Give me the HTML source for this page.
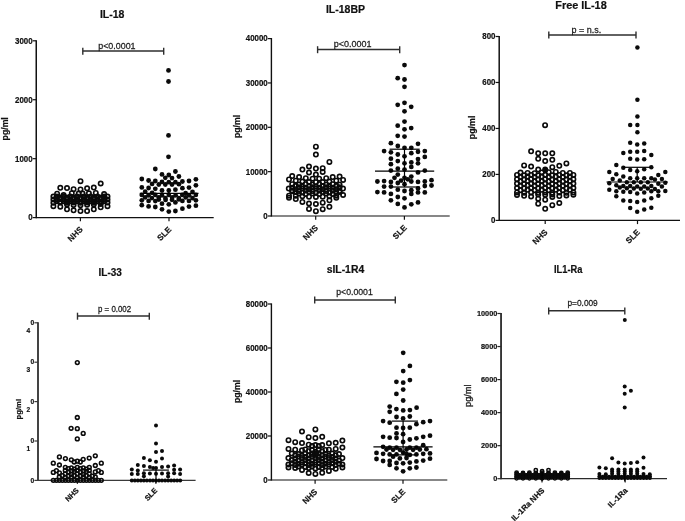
<!DOCTYPE html>
<html><head><meta charset="utf-8"><title>Figure</title>
<style>
html,body{margin:0;padding:0;background:#fff;}
svg{display:block;font-family:"Liberation Sans", Arial, sans-serif;}
</style></head><body>
<svg width="685" height="521" viewBox="0 0 685 521">
<rect width="685" height="521" fill="#fff"/>
<g>
<line x1="36.25" y1="40.20" x2="36.25" y2="218.20" stroke="#111" stroke-width="1.5"/>
<line x1="36.25" y1="217.60" x2="213.70" y2="217.60" stroke="#111" stroke-width="1.2"/>
<line x1="32.65" y1="217.60" x2="36.25" y2="217.60" stroke="#111" stroke-width="1.2"/>
<text x="0.00" y="0.00" font-size="8.5" font-weight="bold" stroke="#111" stroke-width="0.2" text-anchor="end" fill="#111" transform="translate(32.55 220.45) scale(0.93 1)">0</text>
<line x1="32.65" y1="158.67" x2="36.25" y2="158.67" stroke="#111" stroke-width="1.2"/>
<text x="0.00" y="0.00" font-size="8.5" font-weight="bold" stroke="#111" stroke-width="0.2" text-anchor="end" fill="#111" transform="translate(32.55 161.51) scale(0.93 1)">1000</text>
<line x1="32.65" y1="99.73" x2="36.25" y2="99.73" stroke="#111" stroke-width="1.2"/>
<text x="0.00" y="0.00" font-size="8.5" font-weight="bold" stroke="#111" stroke-width="0.2" text-anchor="end" fill="#111" transform="translate(32.55 102.58) scale(0.93 1)">2000</text>
<line x1="32.65" y1="40.80" x2="36.25" y2="40.80" stroke="#111" stroke-width="1.2"/>
<text x="0.00" y="0.00" font-size="8.5" font-weight="bold" stroke="#111" stroke-width="0.2" text-anchor="end" fill="#111" transform="translate(32.55 43.65) scale(0.93 1)">3000</text>
<line x1="80.40" y1="217.60" x2="80.40" y2="221.30" stroke="#111" stroke-width="1.2"/>
<text x="83.30" y="230.00" font-size="8.2" font-weight="bold" stroke="#111" stroke-width="0.2" text-anchor="end" fill="#111" transform="rotate(-45 83.30 230.00)">NHS</text>
<line x1="169.00" y1="217.60" x2="169.00" y2="221.30" stroke="#111" stroke-width="1.2"/>
<text x="171.90" y="230.00" font-size="8.2" font-weight="bold" stroke="#111" stroke-width="0.2" text-anchor="end" fill="#111" transform="rotate(-45 171.90 230.00)">SLE</text>
<text x="8.00" y="128.80" font-size="8.7" font-weight="bold" stroke="#111" stroke-width="0.2" text-anchor="middle" fill="#111" transform="rotate(-90 8.00 128.80)">pg/ml</text>
<text x="112.20" y="18.00" font-size="10.5" font-weight="bold" stroke="#111" stroke-width="0.2" text-anchor="middle" fill="#111">IL-18</text>
<line x1="82.80" y1="51.10" x2="163.70" y2="51.10" stroke="#2e2e2e" stroke-width="1.5"/>
<line x1="82.80" y1="47.70" x2="82.80" y2="54.70" stroke="#2e2e2e" stroke-width="1.4"/>
<line x1="163.70" y1="47.70" x2="163.70" y2="54.70" stroke="#2e2e2e" stroke-width="1.4"/>
<text x="0.00" y="0.00" font-size="9.43" stroke="#1c1c1c" stroke-width="0.25" text-anchor="start" fill="#1c1c1c" transform="translate(98.20 49.00) scale(0.945 1)">p&lt;0.0001</text>
<circle cx="80.5" cy="181.2" r="2.17" fill="none" stroke="#0a0a0a" stroke-width="1.65"/>
<circle cx="100.7" cy="183.5" r="2.17" fill="none" stroke="#0a0a0a" stroke-width="1.65"/>
<circle cx="60.3" cy="187.8" r="2.17" fill="none" stroke="#0a0a0a" stroke-width="1.65"/>
<circle cx="67.0" cy="188.1" r="2.17" fill="none" stroke="#0a0a0a" stroke-width="1.65"/>
<circle cx="73.6" cy="189.2" r="2.17" fill="none" stroke="#0a0a0a" stroke-width="1.65"/>
<circle cx="80.5" cy="189.4" r="2.17" fill="none" stroke="#0a0a0a" stroke-width="1.65"/>
<circle cx="87.1" cy="188.3" r="2.17" fill="none" stroke="#0a0a0a" stroke-width="1.65"/>
<circle cx="93.8" cy="187.6" r="2.17" fill="none" stroke="#0a0a0a" stroke-width="1.65"/>
<circle cx="57.1" cy="193.7" r="2.17" fill="none" stroke="#0a0a0a" stroke-width="1.65"/>
<circle cx="63.6" cy="195.0" r="2.17" fill="none" stroke="#0a0a0a" stroke-width="1.65"/>
<circle cx="71.8" cy="193.2" r="2.17" fill="none" stroke="#0a0a0a" stroke-width="1.65"/>
<circle cx="78.7" cy="193.5" r="2.17" fill="none" stroke="#0a0a0a" stroke-width="1.65"/>
<circle cx="82.6" cy="193.5" r="2.17" fill="none" stroke="#0a0a0a" stroke-width="1.65"/>
<circle cx="88.9" cy="193.3" r="2.17" fill="none" stroke="#0a0a0a" stroke-width="1.65"/>
<circle cx="95.8" cy="192.9" r="2.17" fill="none" stroke="#0a0a0a" stroke-width="1.65"/>
<circle cx="104.1" cy="194.0" r="2.17" fill="none" stroke="#0a0a0a" stroke-width="1.65"/>
<circle cx="53.4" cy="196.5" r="2.17" fill="none" stroke="#0a0a0a" stroke-width="1.65"/>
<circle cx="107.5" cy="196.5" r="2.17" fill="none" stroke="#0a0a0a" stroke-width="1.65"/>
<circle cx="56.8" cy="196.6" r="2.17" fill="none" stroke="#0a0a0a" stroke-width="1.65"/>
<circle cx="60.2" cy="197.4" r="2.17" fill="none" stroke="#0a0a0a" stroke-width="1.65"/>
<circle cx="63.6" cy="196.6" r="2.17" fill="none" stroke="#0a0a0a" stroke-width="1.65"/>
<circle cx="67.0" cy="197.4" r="2.17" fill="none" stroke="#0a0a0a" stroke-width="1.65"/>
<circle cx="70.4" cy="196.6" r="2.17" fill="none" stroke="#0a0a0a" stroke-width="1.65"/>
<circle cx="73.7" cy="197.4" r="2.17" fill="none" stroke="#0a0a0a" stroke-width="1.65"/>
<circle cx="77.1" cy="196.6" r="2.17" fill="none" stroke="#0a0a0a" stroke-width="1.65"/>
<circle cx="80.5" cy="197.4" r="2.17" fill="none" stroke="#0a0a0a" stroke-width="1.65"/>
<circle cx="83.9" cy="196.6" r="2.17" fill="none" stroke="#0a0a0a" stroke-width="1.65"/>
<circle cx="87.3" cy="197.4" r="2.17" fill="none" stroke="#0a0a0a" stroke-width="1.65"/>
<circle cx="90.6" cy="196.6" r="2.17" fill="none" stroke="#0a0a0a" stroke-width="1.65"/>
<circle cx="94.0" cy="197.4" r="2.17" fill="none" stroke="#0a0a0a" stroke-width="1.65"/>
<circle cx="97.4" cy="196.6" r="2.17" fill="none" stroke="#0a0a0a" stroke-width="1.65"/>
<circle cx="100.8" cy="197.4" r="2.17" fill="none" stroke="#0a0a0a" stroke-width="1.65"/>
<circle cx="104.2" cy="196.6" r="2.17" fill="none" stroke="#0a0a0a" stroke-width="1.65"/>
<circle cx="56.8" cy="198.1" r="2.17" fill="none" stroke="#0a0a0a" stroke-width="1.65"/>
<circle cx="60.2" cy="198.7" r="2.17" fill="none" stroke="#0a0a0a" stroke-width="1.65"/>
<circle cx="63.6" cy="198.1" r="2.17" fill="none" stroke="#0a0a0a" stroke-width="1.65"/>
<circle cx="67.0" cy="198.7" r="2.17" fill="none" stroke="#0a0a0a" stroke-width="1.65"/>
<circle cx="70.4" cy="198.1" r="2.17" fill="none" stroke="#0a0a0a" stroke-width="1.65"/>
<circle cx="73.7" cy="198.7" r="2.17" fill="none" stroke="#0a0a0a" stroke-width="1.65"/>
<circle cx="77.1" cy="198.1" r="2.17" fill="none" stroke="#0a0a0a" stroke-width="1.65"/>
<circle cx="80.5" cy="198.7" r="2.17" fill="none" stroke="#0a0a0a" stroke-width="1.65"/>
<circle cx="83.9" cy="198.1" r="2.17" fill="none" stroke="#0a0a0a" stroke-width="1.65"/>
<circle cx="87.3" cy="198.7" r="2.17" fill="none" stroke="#0a0a0a" stroke-width="1.65"/>
<circle cx="90.6" cy="198.1" r="2.17" fill="none" stroke="#0a0a0a" stroke-width="1.65"/>
<circle cx="94.0" cy="198.7" r="2.17" fill="none" stroke="#0a0a0a" stroke-width="1.65"/>
<circle cx="97.4" cy="198.1" r="2.17" fill="none" stroke="#0a0a0a" stroke-width="1.65"/>
<circle cx="100.8" cy="198.7" r="2.17" fill="none" stroke="#0a0a0a" stroke-width="1.65"/>
<circle cx="104.2" cy="198.1" r="2.17" fill="none" stroke="#0a0a0a" stroke-width="1.65"/>
<circle cx="56.8" cy="199.7" r="2.17" fill="none" stroke="#0a0a0a" stroke-width="1.65"/>
<circle cx="60.2" cy="199.1" r="2.17" fill="none" stroke="#0a0a0a" stroke-width="1.65"/>
<circle cx="63.6" cy="199.7" r="2.17" fill="none" stroke="#0a0a0a" stroke-width="1.65"/>
<circle cx="67.0" cy="199.1" r="2.17" fill="none" stroke="#0a0a0a" stroke-width="1.65"/>
<circle cx="70.4" cy="199.7" r="2.17" fill="none" stroke="#0a0a0a" stroke-width="1.65"/>
<circle cx="73.7" cy="199.1" r="2.17" fill="none" stroke="#0a0a0a" stroke-width="1.65"/>
<circle cx="77.1" cy="199.7" r="2.17" fill="none" stroke="#0a0a0a" stroke-width="1.65"/>
<circle cx="80.5" cy="199.1" r="2.17" fill="none" stroke="#0a0a0a" stroke-width="1.65"/>
<circle cx="83.9" cy="199.7" r="2.17" fill="none" stroke="#0a0a0a" stroke-width="1.65"/>
<circle cx="87.3" cy="199.1" r="2.17" fill="none" stroke="#0a0a0a" stroke-width="1.65"/>
<circle cx="90.6" cy="199.7" r="2.17" fill="none" stroke="#0a0a0a" stroke-width="1.65"/>
<circle cx="94.0" cy="199.1" r="2.17" fill="none" stroke="#0a0a0a" stroke-width="1.65"/>
<circle cx="97.4" cy="199.7" r="2.17" fill="none" stroke="#0a0a0a" stroke-width="1.65"/>
<circle cx="100.8" cy="199.1" r="2.17" fill="none" stroke="#0a0a0a" stroke-width="1.65"/>
<circle cx="104.2" cy="199.7" r="2.17" fill="none" stroke="#0a0a0a" stroke-width="1.65"/>
<circle cx="56.8" cy="201.2" r="2.17" fill="none" stroke="#0a0a0a" stroke-width="1.65"/>
<circle cx="60.2" cy="201.7" r="2.17" fill="none" stroke="#0a0a0a" stroke-width="1.65"/>
<circle cx="63.6" cy="201.2" r="2.17" fill="none" stroke="#0a0a0a" stroke-width="1.65"/>
<circle cx="67.0" cy="201.7" r="2.17" fill="none" stroke="#0a0a0a" stroke-width="1.65"/>
<circle cx="70.4" cy="201.2" r="2.17" fill="none" stroke="#0a0a0a" stroke-width="1.65"/>
<circle cx="73.7" cy="201.7" r="2.17" fill="none" stroke="#0a0a0a" stroke-width="1.65"/>
<circle cx="77.1" cy="201.2" r="2.17" fill="none" stroke="#0a0a0a" stroke-width="1.65"/>
<circle cx="80.5" cy="201.7" r="2.17" fill="none" stroke="#0a0a0a" stroke-width="1.65"/>
<circle cx="83.9" cy="201.2" r="2.17" fill="none" stroke="#0a0a0a" stroke-width="1.65"/>
<circle cx="87.3" cy="201.7" r="2.17" fill="none" stroke="#0a0a0a" stroke-width="1.65"/>
<circle cx="90.6" cy="201.2" r="2.17" fill="none" stroke="#0a0a0a" stroke-width="1.65"/>
<circle cx="94.0" cy="201.7" r="2.17" fill="none" stroke="#0a0a0a" stroke-width="1.65"/>
<circle cx="97.4" cy="201.2" r="2.17" fill="none" stroke="#0a0a0a" stroke-width="1.65"/>
<circle cx="100.8" cy="201.7" r="2.17" fill="none" stroke="#0a0a0a" stroke-width="1.65"/>
<circle cx="104.2" cy="201.2" r="2.17" fill="none" stroke="#0a0a0a" stroke-width="1.65"/>
<circle cx="60.2" cy="202.4" r="2.17" fill="none" stroke="#0a0a0a" stroke-width="1.65"/>
<circle cx="67.0" cy="202.7" r="2.17" fill="none" stroke="#0a0a0a" stroke-width="1.65"/>
<circle cx="73.7" cy="202.4" r="2.17" fill="none" stroke="#0a0a0a" stroke-width="1.65"/>
<circle cx="80.5" cy="202.7" r="2.17" fill="none" stroke="#0a0a0a" stroke-width="1.65"/>
<circle cx="87.3" cy="202.4" r="2.17" fill="none" stroke="#0a0a0a" stroke-width="1.65"/>
<circle cx="94.0" cy="202.7" r="2.17" fill="none" stroke="#0a0a0a" stroke-width="1.65"/>
<circle cx="100.8" cy="202.4" r="2.17" fill="none" stroke="#0a0a0a" stroke-width="1.65"/>
<circle cx="53.4" cy="199.6" r="2.17" fill="none" stroke="#0a0a0a" stroke-width="1.65"/>
<circle cx="107.5" cy="199.5" r="2.17" fill="none" stroke="#0a0a0a" stroke-width="1.65"/>
<circle cx="53.4" cy="202.7" r="2.17" fill="none" stroke="#0a0a0a" stroke-width="1.65"/>
<circle cx="107.5" cy="202.5" r="2.17" fill="none" stroke="#0a0a0a" stroke-width="1.65"/>
<circle cx="53.4" cy="206.2" r="2.17" fill="none" stroke="#0a0a0a" stroke-width="1.65"/>
<circle cx="60.3" cy="206.7" r="2.17" fill="none" stroke="#0a0a0a" stroke-width="1.65"/>
<circle cx="67.0" cy="204.4" r="2.17" fill="none" stroke="#0a0a0a" stroke-width="1.65"/>
<circle cx="73.6" cy="204.9" r="2.17" fill="none" stroke="#0a0a0a" stroke-width="1.65"/>
<circle cx="80.5" cy="205.2" r="2.17" fill="none" stroke="#0a0a0a" stroke-width="1.65"/>
<circle cx="87.1" cy="204.7" r="2.17" fill="none" stroke="#0a0a0a" stroke-width="1.65"/>
<circle cx="93.8" cy="204.4" r="2.17" fill="none" stroke="#0a0a0a" stroke-width="1.65"/>
<circle cx="100.7" cy="204.0" r="2.17" fill="none" stroke="#0a0a0a" stroke-width="1.65"/>
<circle cx="100.7" cy="207.3" r="2.17" fill="none" stroke="#0a0a0a" stroke-width="1.65"/>
<circle cx="107.5" cy="206.2" r="2.17" fill="none" stroke="#0a0a0a" stroke-width="1.65"/>
<circle cx="67.0" cy="209.3" r="2.17" fill="none" stroke="#0a0a0a" stroke-width="1.65"/>
<circle cx="73.6" cy="210.3" r="2.17" fill="none" stroke="#0a0a0a" stroke-width="1.65"/>
<circle cx="80.5" cy="211.1" r="2.17" fill="none" stroke="#0a0a0a" stroke-width="1.65"/>
<circle cx="87.1" cy="211.1" r="2.17" fill="none" stroke="#0a0a0a" stroke-width="1.65"/>
<circle cx="93.8" cy="209.3" r="2.17" fill="none" stroke="#0a0a0a" stroke-width="1.65"/>
<circle cx="168.5" cy="70.4" r="2.40" fill="#0a0a0a"/>
<circle cx="168.5" cy="81.5" r="2.40" fill="#0a0a0a"/>
<circle cx="168.5" cy="135.4" r="2.40" fill="#0a0a0a"/>
<circle cx="168.5" cy="156.8" r="2.40" fill="#0a0a0a"/>
<circle cx="155.3" cy="169.0" r="2.40" fill="#0a0a0a"/>
<circle cx="175.4" cy="171.5" r="2.40" fill="#0a0a0a"/>
<circle cx="162.0" cy="174.4" r="2.40" fill="#0a0a0a"/>
<circle cx="168.8" cy="175.0" r="2.40" fill="#0a0a0a"/>
<circle cx="178.9" cy="176.5" r="2.40" fill="#0a0a0a"/>
<circle cx="165.3" cy="177.8" r="2.40" fill="#0a0a0a"/>
<circle cx="172.0" cy="178.1" r="2.40" fill="#0a0a0a"/>
<circle cx="141.8" cy="179.0" r="2.40" fill="#0a0a0a"/>
<circle cx="195.9" cy="179.3" r="2.40" fill="#0a0a0a"/>
<circle cx="148.6" cy="180.5" r="2.40" fill="#0a0a0a"/>
<circle cx="155.3" cy="181.0" r="2.40" fill="#0a0a0a"/>
<circle cx="189.0" cy="181.0" r="2.40" fill="#0a0a0a"/>
<circle cx="182.4" cy="181.5" r="2.40" fill="#0a0a0a"/>
<circle cx="162.0" cy="181.9" r="2.40" fill="#0a0a0a"/>
<circle cx="168.8" cy="182.2" r="2.40" fill="#0a0a0a"/>
<circle cx="175.4" cy="182.2" r="2.40" fill="#0a0a0a"/>
<circle cx="152.1" cy="183.9" r="2.40" fill="#0a0a0a"/>
<circle cx="158.8" cy="184.5" r="2.40" fill="#0a0a0a"/>
<circle cx="165.3" cy="184.5" r="2.40" fill="#0a0a0a"/>
<circle cx="172.0" cy="184.5" r="2.40" fill="#0a0a0a"/>
<circle cx="178.9" cy="184.2" r="2.40" fill="#0a0a0a"/>
<circle cx="195.9" cy="185.3" r="2.40" fill="#0a0a0a"/>
<circle cx="141.8" cy="187.4" r="2.40" fill="#0a0a0a"/>
<circle cx="148.6" cy="188.0" r="2.40" fill="#0a0a0a"/>
<circle cx="155.3" cy="188.8" r="2.40" fill="#0a0a0a"/>
<circle cx="182.4" cy="188.2" r="2.40" fill="#0a0a0a"/>
<circle cx="189.0" cy="187.6" r="2.40" fill="#0a0a0a"/>
<circle cx="162.0" cy="190.5" r="2.40" fill="#0a0a0a"/>
<circle cx="168.8" cy="190.5" r="2.40" fill="#0a0a0a"/>
<circle cx="175.4" cy="189.7" r="2.40" fill="#0a0a0a"/>
<circle cx="145.2" cy="191.7" r="2.40" fill="#0a0a0a"/>
<circle cx="152.1" cy="192.8" r="2.40" fill="#0a0a0a"/>
<circle cx="192.5" cy="192.0" r="2.40" fill="#0a0a0a"/>
<circle cx="185.6" cy="193.2" r="2.40" fill="#0a0a0a"/>
<circle cx="141.8" cy="194.9" r="2.40" fill="#0a0a0a"/>
<circle cx="148.5" cy="195.3" r="2.40" fill="#0a0a0a"/>
<circle cx="155.3" cy="194.9" r="2.40" fill="#0a0a0a"/>
<circle cx="162.0" cy="195.3" r="2.40" fill="#0a0a0a"/>
<circle cx="168.8" cy="194.9" r="2.40" fill="#0a0a0a"/>
<circle cx="175.6" cy="195.3" r="2.40" fill="#0a0a0a"/>
<circle cx="182.3" cy="194.9" r="2.40" fill="#0a0a0a"/>
<circle cx="189.1" cy="195.3" r="2.40" fill="#0a0a0a"/>
<circle cx="195.8" cy="194.9" r="2.40" fill="#0a0a0a"/>
<circle cx="145.1" cy="197.4" r="2.40" fill="#0a0a0a"/>
<circle cx="151.9" cy="198.1" r="2.40" fill="#0a0a0a"/>
<circle cx="158.7" cy="197.4" r="2.40" fill="#0a0a0a"/>
<circle cx="165.4" cy="198.1" r="2.40" fill="#0a0a0a"/>
<circle cx="172.2" cy="197.4" r="2.40" fill="#0a0a0a"/>
<circle cx="178.9" cy="198.1" r="2.40" fill="#0a0a0a"/>
<circle cx="185.7" cy="197.4" r="2.40" fill="#0a0a0a"/>
<circle cx="192.5" cy="198.1" r="2.40" fill="#0a0a0a"/>
<circle cx="158.8" cy="199.6" r="2.40" fill="#0a0a0a"/>
<circle cx="165.6" cy="199.9" r="2.40" fill="#0a0a0a"/>
<circle cx="172.0" cy="199.8" r="2.40" fill="#0a0a0a"/>
<circle cx="178.9" cy="199.4" r="2.40" fill="#0a0a0a"/>
<circle cx="141.8" cy="200.3" r="2.40" fill="#0a0a0a"/>
<circle cx="148.6" cy="200.9" r="2.40" fill="#0a0a0a"/>
<circle cx="155.3" cy="201.1" r="2.40" fill="#0a0a0a"/>
<circle cx="182.4" cy="200.9" r="2.40" fill="#0a0a0a"/>
<circle cx="189.0" cy="200.9" r="2.40" fill="#0a0a0a"/>
<circle cx="195.9" cy="200.3" r="2.40" fill="#0a0a0a"/>
<circle cx="175.4" cy="202.4" r="2.40" fill="#0a0a0a"/>
<circle cx="162.0" cy="203.7" r="2.40" fill="#0a0a0a"/>
<circle cx="168.8" cy="204.3" r="2.40" fill="#0a0a0a"/>
<circle cx="141.8" cy="205.2" r="2.40" fill="#0a0a0a"/>
<circle cx="148.6" cy="206.4" r="2.40" fill="#0a0a0a"/>
<circle cx="155.3" cy="207.0" r="2.40" fill="#0a0a0a"/>
<circle cx="189.0" cy="206.6" r="2.40" fill="#0a0a0a"/>
<circle cx="195.9" cy="205.7" r="2.40" fill="#0a0a0a"/>
<circle cx="162.0" cy="209.3" r="2.40" fill="#0a0a0a"/>
<circle cx="182.4" cy="208.7" r="2.40" fill="#0a0a0a"/>
<circle cx="168.8" cy="211.6" r="2.40" fill="#0a0a0a"/>
<circle cx="175.4" cy="211.0" r="2.40" fill="#0a0a0a"/>
<line x1="139.80" y1="193.40" x2="198.50" y2="193.40" stroke="#000" stroke-width="1.2"/>
<line x1="168.80" y1="188.50" x2="168.80" y2="193.40" stroke="#000" stroke-width="1.2"/>
</g>
<g>
<line x1="271.40" y1="38.00" x2="271.40" y2="216.60" stroke="#111" stroke-width="1.4"/>
<line x1="271.40" y1="216.00" x2="449.70" y2="216.00" stroke="#111" stroke-width="1.2"/>
<line x1="267.80" y1="216.00" x2="271.40" y2="216.00" stroke="#111" stroke-width="1.2"/>
<text x="0.00" y="0.00" font-size="8.5" font-weight="bold" stroke="#111" stroke-width="0.2" text-anchor="end" fill="#111" transform="translate(267.70 218.85) scale(0.93 1)">0</text>
<line x1="267.80" y1="171.65" x2="271.40" y2="171.65" stroke="#111" stroke-width="1.2"/>
<text x="0.00" y="0.00" font-size="8.5" font-weight="bold" stroke="#111" stroke-width="0.2" text-anchor="end" fill="#111" transform="translate(267.70 174.50) scale(0.93 1)">10000</text>
<line x1="267.80" y1="127.30" x2="271.40" y2="127.30" stroke="#111" stroke-width="1.2"/>
<text x="0.00" y="0.00" font-size="8.5" font-weight="bold" stroke="#111" stroke-width="0.2" text-anchor="end" fill="#111" transform="translate(267.70 130.15) scale(0.93 1)">20000</text>
<line x1="267.80" y1="82.95" x2="271.40" y2="82.95" stroke="#111" stroke-width="1.2"/>
<text x="0.00" y="0.00" font-size="8.5" font-weight="bold" stroke="#111" stroke-width="0.2" text-anchor="end" fill="#111" transform="translate(267.70 85.80) scale(0.93 1)">30000</text>
<line x1="267.80" y1="38.60" x2="271.40" y2="38.60" stroke="#111" stroke-width="1.2"/>
<text x="0.00" y="0.00" font-size="8.5" font-weight="bold" stroke="#111" stroke-width="0.2" text-anchor="end" fill="#111" transform="translate(267.70 41.45) scale(0.93 1)">40000</text>
<line x1="315.70" y1="216.00" x2="315.70" y2="219.70" stroke="#111" stroke-width="1.2"/>
<text x="318.60" y="228.40" font-size="8.2" font-weight="bold" stroke="#111" stroke-width="0.2" text-anchor="end" fill="#111" transform="rotate(-45 318.60 228.40)">NHS</text>
<line x1="404.40" y1="216.00" x2="404.40" y2="219.70" stroke="#111" stroke-width="1.2"/>
<text x="407.30" y="228.40" font-size="8.2" font-weight="bold" stroke="#111" stroke-width="0.2" text-anchor="end" fill="#111" transform="rotate(-45 407.30 228.40)">SLE</text>
<text x="239.80" y="126.40" font-size="8.7" font-weight="bold" stroke="#111" stroke-width="0.2" text-anchor="middle" fill="#111" transform="rotate(-90 239.80 126.40)">pg/ml</text>
<text x="345.50" y="12.60" font-size="10.5" font-weight="bold" stroke="#111" stroke-width="0.2" text-anchor="middle" fill="#111">IL-18BP</text>
<line x1="317.60" y1="49.60" x2="399.70" y2="49.60" stroke="#2e2e2e" stroke-width="1.5"/>
<line x1="317.60" y1="46.20" x2="317.60" y2="53.20" stroke="#2e2e2e" stroke-width="1.4"/>
<line x1="399.70" y1="46.20" x2="399.70" y2="53.20" stroke="#2e2e2e" stroke-width="1.4"/>
<text x="0.00" y="0.00" font-size="9.54" stroke="#1c1c1c" stroke-width="0.25" text-anchor="start" fill="#1c1c1c" transform="translate(333.70 47.30) scale(0.945 1)">p&lt;0.0001</text>
<circle cx="315.9" cy="146.7" r="2.17" fill="none" stroke="#0a0a0a" stroke-width="1.65"/>
<circle cx="315.9" cy="154.6" r="2.17" fill="none" stroke="#0a0a0a" stroke-width="1.65"/>
<circle cx="329.4" cy="161.9" r="2.17" fill="none" stroke="#0a0a0a" stroke-width="1.65"/>
<circle cx="309.0" cy="166.5" r="2.17" fill="none" stroke="#0a0a0a" stroke-width="1.65"/>
<circle cx="322.7" cy="168.2" r="2.17" fill="none" stroke="#0a0a0a" stroke-width="1.65"/>
<circle cx="302.4" cy="169.6" r="2.17" fill="none" stroke="#0a0a0a" stroke-width="1.65"/>
<circle cx="315.9" cy="168.6" r="2.17" fill="none" stroke="#0a0a0a" stroke-width="1.65"/>
<circle cx="322.7" cy="171.9" r="2.17" fill="none" stroke="#0a0a0a" stroke-width="1.65"/>
<circle cx="309.0" cy="172.5" r="2.17" fill="none" stroke="#0a0a0a" stroke-width="1.65"/>
<circle cx="315.9" cy="174.6" r="2.17" fill="none" stroke="#0a0a0a" stroke-width="1.65"/>
<circle cx="292.2" cy="176.1" r="2.17" fill="none" stroke="#0a0a0a" stroke-width="1.65"/>
<circle cx="299.1" cy="177.1" r="2.17" fill="none" stroke="#0a0a0a" stroke-width="1.65"/>
<circle cx="305.8" cy="178.2" r="2.17" fill="none" stroke="#0a0a0a" stroke-width="1.65"/>
<circle cx="312.6" cy="178.7" r="2.17" fill="none" stroke="#0a0a0a" stroke-width="1.65"/>
<circle cx="319.2" cy="178.7" r="2.17" fill="none" stroke="#0a0a0a" stroke-width="1.65"/>
<circle cx="326.2" cy="178.2" r="2.17" fill="none" stroke="#0a0a0a" stroke-width="1.65"/>
<circle cx="332.7" cy="177.1" r="2.17" fill="none" stroke="#0a0a0a" stroke-width="1.65"/>
<circle cx="339.6" cy="176.6" r="2.17" fill="none" stroke="#0a0a0a" stroke-width="1.65"/>
<circle cx="289.0" cy="179.4" r="2.17" fill="none" stroke="#0a0a0a" stroke-width="1.65"/>
<circle cx="295.8" cy="180.7" r="2.17" fill="none" stroke="#0a0a0a" stroke-width="1.65"/>
<circle cx="302.4" cy="181.5" r="2.17" fill="none" stroke="#0a0a0a" stroke-width="1.65"/>
<circle cx="309.0" cy="182.0" r="2.17" fill="none" stroke="#0a0a0a" stroke-width="1.65"/>
<circle cx="315.9" cy="182.2" r="2.17" fill="none" stroke="#0a0a0a" stroke-width="1.65"/>
<circle cx="322.7" cy="182.0" r="2.17" fill="none" stroke="#0a0a0a" stroke-width="1.65"/>
<circle cx="329.4" cy="181.5" r="2.17" fill="none" stroke="#0a0a0a" stroke-width="1.65"/>
<circle cx="336.3" cy="180.7" r="2.17" fill="none" stroke="#0a0a0a" stroke-width="1.65"/>
<circle cx="343.1" cy="179.9" r="2.17" fill="none" stroke="#0a0a0a" stroke-width="1.65"/>
<circle cx="292.2" cy="184.2" r="2.17" fill="none" stroke="#0a0a0a" stroke-width="1.65"/>
<circle cx="298.9" cy="184.7" r="2.17" fill="none" stroke="#0a0a0a" stroke-width="1.65"/>
<circle cx="305.7" cy="184.2" r="2.17" fill="none" stroke="#0a0a0a" stroke-width="1.65"/>
<circle cx="312.5" cy="184.7" r="2.17" fill="none" stroke="#0a0a0a" stroke-width="1.65"/>
<circle cx="319.3" cy="184.2" r="2.17" fill="none" stroke="#0a0a0a" stroke-width="1.65"/>
<circle cx="326.1" cy="184.7" r="2.17" fill="none" stroke="#0a0a0a" stroke-width="1.65"/>
<circle cx="332.8" cy="184.2" r="2.17" fill="none" stroke="#0a0a0a" stroke-width="1.65"/>
<circle cx="339.6" cy="184.7" r="2.17" fill="none" stroke="#0a0a0a" stroke-width="1.65"/>
<circle cx="295.6" cy="186.0" r="2.17" fill="none" stroke="#0a0a0a" stroke-width="1.65"/>
<circle cx="302.3" cy="186.5" r="2.17" fill="none" stroke="#0a0a0a" stroke-width="1.65"/>
<circle cx="309.1" cy="186.0" r="2.17" fill="none" stroke="#0a0a0a" stroke-width="1.65"/>
<circle cx="315.9" cy="186.5" r="2.17" fill="none" stroke="#0a0a0a" stroke-width="1.65"/>
<circle cx="322.7" cy="186.0" r="2.17" fill="none" stroke="#0a0a0a" stroke-width="1.65"/>
<circle cx="329.5" cy="186.5" r="2.17" fill="none" stroke="#0a0a0a" stroke-width="1.65"/>
<circle cx="336.2" cy="186.0" r="2.17" fill="none" stroke="#0a0a0a" stroke-width="1.65"/>
<circle cx="292.2" cy="187.8" r="2.17" fill="none" stroke="#0a0a0a" stroke-width="1.65"/>
<circle cx="298.9" cy="187.3" r="2.17" fill="none" stroke="#0a0a0a" stroke-width="1.65"/>
<circle cx="305.7" cy="187.8" r="2.17" fill="none" stroke="#0a0a0a" stroke-width="1.65"/>
<circle cx="312.5" cy="187.3" r="2.17" fill="none" stroke="#0a0a0a" stroke-width="1.65"/>
<circle cx="319.3" cy="187.8" r="2.17" fill="none" stroke="#0a0a0a" stroke-width="1.65"/>
<circle cx="326.1" cy="187.3" r="2.17" fill="none" stroke="#0a0a0a" stroke-width="1.65"/>
<circle cx="332.8" cy="187.8" r="2.17" fill="none" stroke="#0a0a0a" stroke-width="1.65"/>
<circle cx="339.6" cy="187.3" r="2.17" fill="none" stroke="#0a0a0a" stroke-width="1.65"/>
<circle cx="288.8" cy="188.6" r="2.17" fill="none" stroke="#0a0a0a" stroke-width="1.65"/>
<circle cx="295.6" cy="189.2" r="2.17" fill="none" stroke="#0a0a0a" stroke-width="1.65"/>
<circle cx="302.3" cy="188.6" r="2.17" fill="none" stroke="#0a0a0a" stroke-width="1.65"/>
<circle cx="309.1" cy="189.2" r="2.17" fill="none" stroke="#0a0a0a" stroke-width="1.65"/>
<circle cx="315.9" cy="188.6" r="2.17" fill="none" stroke="#0a0a0a" stroke-width="1.65"/>
<circle cx="322.7" cy="189.2" r="2.17" fill="none" stroke="#0a0a0a" stroke-width="1.65"/>
<circle cx="329.5" cy="188.6" r="2.17" fill="none" stroke="#0a0a0a" stroke-width="1.65"/>
<circle cx="336.2" cy="189.2" r="2.17" fill="none" stroke="#0a0a0a" stroke-width="1.65"/>
<circle cx="343.0" cy="188.6" r="2.17" fill="none" stroke="#0a0a0a" stroke-width="1.65"/>
<circle cx="292.2" cy="190.4" r="2.17" fill="none" stroke="#0a0a0a" stroke-width="1.65"/>
<circle cx="298.9" cy="190.9" r="2.17" fill="none" stroke="#0a0a0a" stroke-width="1.65"/>
<circle cx="305.7" cy="190.4" r="2.17" fill="none" stroke="#0a0a0a" stroke-width="1.65"/>
<circle cx="312.5" cy="190.9" r="2.17" fill="none" stroke="#0a0a0a" stroke-width="1.65"/>
<circle cx="319.3" cy="190.4" r="2.17" fill="none" stroke="#0a0a0a" stroke-width="1.65"/>
<circle cx="326.1" cy="190.9" r="2.17" fill="none" stroke="#0a0a0a" stroke-width="1.65"/>
<circle cx="332.8" cy="190.4" r="2.17" fill="none" stroke="#0a0a0a" stroke-width="1.65"/>
<circle cx="339.6" cy="190.9" r="2.17" fill="none" stroke="#0a0a0a" stroke-width="1.65"/>
<circle cx="295.6" cy="192.0" r="2.17" fill="none" stroke="#0a0a0a" stroke-width="1.65"/>
<circle cx="302.3" cy="192.5" r="2.17" fill="none" stroke="#0a0a0a" stroke-width="1.65"/>
<circle cx="309.1" cy="192.0" r="2.17" fill="none" stroke="#0a0a0a" stroke-width="1.65"/>
<circle cx="315.9" cy="192.5" r="2.17" fill="none" stroke="#0a0a0a" stroke-width="1.65"/>
<circle cx="322.7" cy="192.0" r="2.17" fill="none" stroke="#0a0a0a" stroke-width="1.65"/>
<circle cx="329.5" cy="192.5" r="2.17" fill="none" stroke="#0a0a0a" stroke-width="1.65"/>
<circle cx="336.2" cy="192.0" r="2.17" fill="none" stroke="#0a0a0a" stroke-width="1.65"/>
<circle cx="298.9" cy="193.4" r="2.17" fill="none" stroke="#0a0a0a" stroke-width="1.65"/>
<circle cx="305.7" cy="193.9" r="2.17" fill="none" stroke="#0a0a0a" stroke-width="1.65"/>
<circle cx="312.5" cy="193.4" r="2.17" fill="none" stroke="#0a0a0a" stroke-width="1.65"/>
<circle cx="319.3" cy="193.9" r="2.17" fill="none" stroke="#0a0a0a" stroke-width="1.65"/>
<circle cx="326.1" cy="193.4" r="2.17" fill="none" stroke="#0a0a0a" stroke-width="1.65"/>
<circle cx="332.8" cy="193.9" r="2.17" fill="none" stroke="#0a0a0a" stroke-width="1.65"/>
<circle cx="292.2" cy="191.3" r="2.17" fill="none" stroke="#0a0a0a" stroke-width="1.65"/>
<circle cx="339.6" cy="192.1" r="2.17" fill="none" stroke="#0a0a0a" stroke-width="1.65"/>
<circle cx="289.0" cy="195.7" r="2.17" fill="none" stroke="#0a0a0a" stroke-width="1.65"/>
<circle cx="295.8" cy="195.7" r="2.17" fill="none" stroke="#0a0a0a" stroke-width="1.65"/>
<circle cx="302.4" cy="196.2" r="2.17" fill="none" stroke="#0a0a0a" stroke-width="1.65"/>
<circle cx="309.0" cy="196.7" r="2.17" fill="none" stroke="#0a0a0a" stroke-width="1.65"/>
<circle cx="315.9" cy="197.0" r="2.17" fill="none" stroke="#0a0a0a" stroke-width="1.65"/>
<circle cx="322.7" cy="196.7" r="2.17" fill="none" stroke="#0a0a0a" stroke-width="1.65"/>
<circle cx="329.4" cy="196.2" r="2.17" fill="none" stroke="#0a0a0a" stroke-width="1.65"/>
<circle cx="336.3" cy="195.7" r="2.17" fill="none" stroke="#0a0a0a" stroke-width="1.65"/>
<circle cx="343.1" cy="195.0" r="2.17" fill="none" stroke="#0a0a0a" stroke-width="1.65"/>
<circle cx="289.0" cy="197.8" r="2.17" fill="none" stroke="#0a0a0a" stroke-width="1.65"/>
<circle cx="295.8" cy="199.1" r="2.17" fill="none" stroke="#0a0a0a" stroke-width="1.65"/>
<circle cx="336.3" cy="197.8" r="2.17" fill="none" stroke="#0a0a0a" stroke-width="1.65"/>
<circle cx="329.4" cy="200.3" r="2.17" fill="none" stroke="#0a0a0a" stroke-width="1.65"/>
<circle cx="302.4" cy="201.9" r="2.17" fill="none" stroke="#0a0a0a" stroke-width="1.65"/>
<circle cx="309.0" cy="203.5" r="2.17" fill="none" stroke="#0a0a0a" stroke-width="1.65"/>
<circle cx="315.9" cy="204.0" r="2.17" fill="none" stroke="#0a0a0a" stroke-width="1.65"/>
<circle cx="322.7" cy="202.7" r="2.17" fill="none" stroke="#0a0a0a" stroke-width="1.65"/>
<circle cx="329.4" cy="206.8" r="2.17" fill="none" stroke="#0a0a0a" stroke-width="1.65"/>
<circle cx="309.0" cy="208.9" r="2.17" fill="none" stroke="#0a0a0a" stroke-width="1.65"/>
<circle cx="322.7" cy="209.2" r="2.17" fill="none" stroke="#0a0a0a" stroke-width="1.65"/>
<circle cx="315.9" cy="211.2" r="2.17" fill="none" stroke="#0a0a0a" stroke-width="1.65"/>
<circle cx="404.5" cy="65.1" r="2.40" fill="#0a0a0a"/>
<circle cx="397.7" cy="78.2" r="2.40" fill="#0a0a0a"/>
<circle cx="404.5" cy="79.5" r="2.40" fill="#0a0a0a"/>
<circle cx="404.5" cy="86.8" r="2.40" fill="#0a0a0a"/>
<circle cx="397.7" cy="104.8" r="2.40" fill="#0a0a0a"/>
<circle cx="404.5" cy="102.8" r="2.40" fill="#0a0a0a"/>
<circle cx="411.2" cy="106.8" r="2.40" fill="#0a0a0a"/>
<circle cx="404.5" cy="111.3" r="2.40" fill="#0a0a0a"/>
<circle cx="404.5" cy="121.6" r="2.40" fill="#0a0a0a"/>
<circle cx="397.7" cy="125.7" r="2.40" fill="#0a0a0a"/>
<circle cx="404.5" cy="129.3" r="2.40" fill="#0a0a0a"/>
<circle cx="411.2" cy="128.1" r="2.40" fill="#0a0a0a"/>
<circle cx="397.7" cy="135.8" r="2.40" fill="#0a0a0a"/>
<circle cx="404.5" cy="136.6" r="2.40" fill="#0a0a0a"/>
<circle cx="390.9" cy="143.2" r="2.40" fill="#0a0a0a"/>
<circle cx="418.0" cy="143.8" r="2.40" fill="#0a0a0a"/>
<circle cx="397.8" cy="146.0" r="2.40" fill="#0a0a0a"/>
<circle cx="404.5" cy="147.8" r="2.40" fill="#0a0a0a"/>
<circle cx="411.3" cy="147.8" r="2.40" fill="#0a0a0a"/>
<circle cx="384.1" cy="151.1" r="2.40" fill="#0a0a0a"/>
<circle cx="390.9" cy="152.3" r="2.40" fill="#0a0a0a"/>
<circle cx="418.0" cy="151.8" r="2.40" fill="#0a0a0a"/>
<circle cx="424.8" cy="151.1" r="2.40" fill="#0a0a0a"/>
<circle cx="397.8" cy="154.5" r="2.40" fill="#0a0a0a"/>
<circle cx="411.3" cy="153.2" r="2.40" fill="#0a0a0a"/>
<circle cx="404.5" cy="156.3" r="2.40" fill="#0a0a0a"/>
<circle cx="424.8" cy="156.9" r="2.40" fill="#0a0a0a"/>
<circle cx="390.9" cy="158.7" r="2.40" fill="#0a0a0a"/>
<circle cx="418.0" cy="159.1" r="2.40" fill="#0a0a0a"/>
<circle cx="397.8" cy="161.1" r="2.40" fill="#0a0a0a"/>
<circle cx="411.3" cy="162.4" r="2.40" fill="#0a0a0a"/>
<circle cx="404.5" cy="163.3" r="2.40" fill="#0a0a0a"/>
<circle cx="390.9" cy="164.2" r="2.40" fill="#0a0a0a"/>
<circle cx="418.0" cy="163.3" r="2.40" fill="#0a0a0a"/>
<circle cx="411.3" cy="166.9" r="2.40" fill="#0a0a0a"/>
<circle cx="397.8" cy="168.7" r="2.40" fill="#0a0a0a"/>
<circle cx="404.5" cy="169.6" r="2.40" fill="#0a0a0a"/>
<circle cx="390.9" cy="170.6" r="2.40" fill="#0a0a0a"/>
<circle cx="424.8" cy="170.6" r="2.40" fill="#0a0a0a"/>
<circle cx="418.0" cy="172.4" r="2.40" fill="#0a0a0a"/>
<circle cx="397.8" cy="174.6" r="2.40" fill="#0a0a0a"/>
<circle cx="411.3" cy="176.6" r="2.40" fill="#0a0a0a"/>
<circle cx="394.5" cy="177.8" r="2.40" fill="#0a0a0a"/>
<circle cx="404.5" cy="177.8" r="2.40" fill="#0a0a0a"/>
<circle cx="407.8" cy="179.3" r="2.40" fill="#0a0a0a"/>
<circle cx="377.4" cy="181.5" r="2.40" fill="#0a0a0a"/>
<circle cx="384.1" cy="181.1" r="2.40" fill="#0a0a0a"/>
<circle cx="390.9" cy="182.0" r="2.40" fill="#0a0a0a"/>
<circle cx="397.8" cy="183.0" r="2.40" fill="#0a0a0a"/>
<circle cx="401.1" cy="180.6" r="2.40" fill="#0a0a0a"/>
<circle cx="411.3" cy="181.5" r="2.40" fill="#0a0a0a"/>
<circle cx="418.0" cy="181.9" r="2.40" fill="#0a0a0a"/>
<circle cx="424.8" cy="181.5" r="2.40" fill="#0a0a0a"/>
<circle cx="431.5" cy="180.2" r="2.40" fill="#0a0a0a"/>
<circle cx="404.5" cy="184.2" r="2.40" fill="#0a0a0a"/>
<circle cx="384.1" cy="186.6" r="2.40" fill="#0a0a0a"/>
<circle cx="390.9" cy="186.6" r="2.40" fill="#0a0a0a"/>
<circle cx="424.8" cy="186.0" r="2.40" fill="#0a0a0a"/>
<circle cx="431.5" cy="185.5" r="2.40" fill="#0a0a0a"/>
<circle cx="397.8" cy="189.7" r="2.40" fill="#0a0a0a"/>
<circle cx="404.5" cy="191.0" r="2.40" fill="#0a0a0a"/>
<circle cx="411.3" cy="190.2" r="2.40" fill="#0a0a0a"/>
<circle cx="418.0" cy="188.4" r="2.40" fill="#0a0a0a"/>
<circle cx="377.4" cy="192.1" r="2.40" fill="#0a0a0a"/>
<circle cx="384.1" cy="192.4" r="2.40" fill="#0a0a0a"/>
<circle cx="390.9" cy="193.9" r="2.40" fill="#0a0a0a"/>
<circle cx="411.3" cy="193.9" r="2.40" fill="#0a0a0a"/>
<circle cx="418.0" cy="192.4" r="2.40" fill="#0a0a0a"/>
<circle cx="424.8" cy="192.4" r="2.40" fill="#0a0a0a"/>
<circle cx="397.8" cy="197.0" r="2.40" fill="#0a0a0a"/>
<circle cx="404.5" cy="198.3" r="2.40" fill="#0a0a0a"/>
<circle cx="390.9" cy="200.3" r="2.40" fill="#0a0a0a"/>
<circle cx="397.8" cy="203.9" r="2.40" fill="#0a0a0a"/>
<circle cx="411.3" cy="204.3" r="2.40" fill="#0a0a0a"/>
<circle cx="418.0" cy="202.4" r="2.40" fill="#0a0a0a"/>
<circle cx="404.5" cy="207.4" r="2.40" fill="#0a0a0a"/>
<line x1="375.00" y1="171.10" x2="434.20" y2="171.10" stroke="#000" stroke-width="1.2"/>
<line x1="389.60" y1="149.20" x2="419.70" y2="149.20" stroke="#000" stroke-width="1.2"/>
<line x1="389.60" y1="187.00" x2="419.70" y2="187.00" stroke="#000" stroke-width="1.2"/>
<line x1="404.50" y1="149.20" x2="404.50" y2="187.00" stroke="#000" stroke-width="1.2"/>
</g>
<g>
<line x1="499.20" y1="35.90" x2="499.20" y2="221.00" stroke="#111" stroke-width="1.5"/>
<line x1="499.20" y1="220.40" x2="680.00" y2="220.40" stroke="#111" stroke-width="1.2"/>
<line x1="495.60" y1="220.40" x2="499.20" y2="220.40" stroke="#111" stroke-width="1.2"/>
<text x="0.00" y="0.00" font-size="8.5" font-weight="bold" stroke="#111" stroke-width="0.2" text-anchor="end" fill="#111" transform="translate(495.50 223.25) scale(0.93 1)">0</text>
<line x1="495.60" y1="174.43" x2="499.20" y2="174.43" stroke="#111" stroke-width="1.2"/>
<text x="0.00" y="0.00" font-size="8.5" font-weight="bold" stroke="#111" stroke-width="0.2" text-anchor="end" fill="#111" transform="translate(495.50 177.27) scale(0.93 1)">200</text>
<line x1="495.60" y1="128.45" x2="499.20" y2="128.45" stroke="#111" stroke-width="1.2"/>
<text x="0.00" y="0.00" font-size="8.5" font-weight="bold" stroke="#111" stroke-width="0.2" text-anchor="end" fill="#111" transform="translate(495.50 131.30) scale(0.93 1)">400</text>
<line x1="495.60" y1="82.47" x2="499.20" y2="82.47" stroke="#111" stroke-width="1.2"/>
<text x="0.00" y="0.00" font-size="8.5" font-weight="bold" stroke="#111" stroke-width="0.2" text-anchor="end" fill="#111" transform="translate(495.50 85.32) scale(0.93 1)">600</text>
<line x1="495.60" y1="36.50" x2="499.20" y2="36.50" stroke="#111" stroke-width="1.2"/>
<text x="0.00" y="0.00" font-size="8.5" font-weight="bold" stroke="#111" stroke-width="0.2" text-anchor="end" fill="#111" transform="translate(495.50 39.35) scale(0.93 1)">800</text>
<line x1="545.20" y1="220.40" x2="545.20" y2="224.10" stroke="#111" stroke-width="1.2"/>
<text x="548.10" y="232.80" font-size="8.2" font-weight="bold" stroke="#111" stroke-width="0.2" text-anchor="end" fill="#111" transform="rotate(-45 548.10 232.80)">NHS</text>
<line x1="637.50" y1="220.40" x2="637.50" y2="224.10" stroke="#111" stroke-width="1.2"/>
<text x="640.40" y="232.80" font-size="8.2" font-weight="bold" stroke="#111" stroke-width="0.2" text-anchor="end" fill="#111" transform="rotate(-45 640.40 232.80)">SLE</text>
<text x="475.10" y="127.40" font-size="8.9" font-weight="bold" stroke="#111" stroke-width="0.2" text-anchor="middle" fill="#111" transform="rotate(-90 475.10 127.40)">pg/ml</text>
<text x="581.00" y="8.80" font-size="10.9" font-weight="bold" stroke="#111" stroke-width="0.2" text-anchor="middle" fill="#111">Free IL-18</text>
<line x1="548.80" y1="35.00" x2="636.00" y2="35.00" stroke="#2e2e2e" stroke-width="1.5"/>
<line x1="548.80" y1="31.60" x2="548.80" y2="38.60" stroke="#2e2e2e" stroke-width="1.4"/>
<line x1="636.00" y1="31.60" x2="636.00" y2="38.60" stroke="#2e2e2e" stroke-width="1.4"/>
<text x="0.00" y="0.00" font-size="9.54" stroke="#1c1c1c" stroke-width="0.25" text-anchor="start" fill="#1c1c1c" transform="translate(571.60 32.70) scale(0.945 1)">p = n.s.</text>
<circle cx="545.1" cy="125.2" r="2.17" fill="none" stroke="#0a0a0a" stroke-width="1.65"/>
<circle cx="531.1" cy="151.3" r="2.17" fill="none" stroke="#0a0a0a" stroke-width="1.65"/>
<circle cx="538.2" cy="153.3" r="2.17" fill="none" stroke="#0a0a0a" stroke-width="1.65"/>
<circle cx="545.2" cy="153.3" r="2.17" fill="none" stroke="#0a0a0a" stroke-width="1.65"/>
<circle cx="552.3" cy="153.3" r="2.17" fill="none" stroke="#0a0a0a" stroke-width="1.65"/>
<circle cx="538.2" cy="158.8" r="2.17" fill="none" stroke="#0a0a0a" stroke-width="1.65"/>
<circle cx="545.2" cy="161.1" r="2.17" fill="none" stroke="#0a0a0a" stroke-width="1.65"/>
<circle cx="552.3" cy="159.8" r="2.17" fill="none" stroke="#0a0a0a" stroke-width="1.65"/>
<circle cx="566.4" cy="163.4" r="2.17" fill="none" stroke="#0a0a0a" stroke-width="1.65"/>
<circle cx="524.1" cy="165.4" r="2.17" fill="none" stroke="#0a0a0a" stroke-width="1.65"/>
<circle cx="531.1" cy="166.5" r="2.17" fill="none" stroke="#0a0a0a" stroke-width="1.65"/>
<circle cx="559.3" cy="165.8" r="2.17" fill="none" stroke="#0a0a0a" stroke-width="1.65"/>
<circle cx="552.3" cy="167.2" r="2.17" fill="none" stroke="#0a0a0a" stroke-width="1.65"/>
<circle cx="538.2" cy="169.5" r="2.17" fill="none" stroke="#0a0a0a" stroke-width="1.65"/>
<circle cx="545.2" cy="169.5" r="2.17" fill="none" stroke="#0a0a0a" stroke-width="1.65"/>
<circle cx="520.5" cy="172.5" r="2.17" fill="none" stroke="#0a0a0a" stroke-width="1.65"/>
<circle cx="527.6" cy="172.9" r="2.17" fill="none" stroke="#0a0a0a" stroke-width="1.65"/>
<circle cx="534.6" cy="173.2" r="2.17" fill="none" stroke="#0a0a0a" stroke-width="1.65"/>
<circle cx="541.7" cy="172.4" r="2.17" fill="none" stroke="#0a0a0a" stroke-width="1.65"/>
<circle cx="548.7" cy="172.2" r="2.17" fill="none" stroke="#0a0a0a" stroke-width="1.65"/>
<circle cx="555.8" cy="171.9" r="2.17" fill="none" stroke="#0a0a0a" stroke-width="1.65"/>
<circle cx="562.8" cy="172.9" r="2.17" fill="none" stroke="#0a0a0a" stroke-width="1.65"/>
<circle cx="569.9" cy="172.9" r="2.17" fill="none" stroke="#0a0a0a" stroke-width="1.65"/>
<circle cx="517.0" cy="174.9" r="2.17" fill="none" stroke="#0a0a0a" stroke-width="1.65"/>
<circle cx="524.1" cy="175.3" r="2.17" fill="none" stroke="#0a0a0a" stroke-width="1.65"/>
<circle cx="531.1" cy="174.9" r="2.17" fill="none" stroke="#0a0a0a" stroke-width="1.65"/>
<circle cx="538.2" cy="175.3" r="2.17" fill="none" stroke="#0a0a0a" stroke-width="1.65"/>
<circle cx="545.2" cy="174.9" r="2.17" fill="none" stroke="#0a0a0a" stroke-width="1.65"/>
<circle cx="552.2" cy="175.3" r="2.17" fill="none" stroke="#0a0a0a" stroke-width="1.65"/>
<circle cx="559.3" cy="174.9" r="2.17" fill="none" stroke="#0a0a0a" stroke-width="1.65"/>
<circle cx="566.4" cy="175.3" r="2.17" fill="none" stroke="#0a0a0a" stroke-width="1.65"/>
<circle cx="573.4" cy="174.9" r="2.17" fill="none" stroke="#0a0a0a" stroke-width="1.65"/>
<circle cx="520.5" cy="177.0" r="2.17" fill="none" stroke="#0a0a0a" stroke-width="1.65"/>
<circle cx="527.6" cy="176.6" r="2.17" fill="none" stroke="#0a0a0a" stroke-width="1.65"/>
<circle cx="534.6" cy="177.0" r="2.17" fill="none" stroke="#0a0a0a" stroke-width="1.65"/>
<circle cx="541.7" cy="176.6" r="2.17" fill="none" stroke="#0a0a0a" stroke-width="1.65"/>
<circle cx="548.7" cy="177.0" r="2.17" fill="none" stroke="#0a0a0a" stroke-width="1.65"/>
<circle cx="555.8" cy="176.6" r="2.17" fill="none" stroke="#0a0a0a" stroke-width="1.65"/>
<circle cx="562.8" cy="177.0" r="2.17" fill="none" stroke="#0a0a0a" stroke-width="1.65"/>
<circle cx="569.9" cy="176.6" r="2.17" fill="none" stroke="#0a0a0a" stroke-width="1.65"/>
<circle cx="517.0" cy="179.2" r="2.17" fill="none" stroke="#0a0a0a" stroke-width="1.65"/>
<circle cx="524.1" cy="179.6" r="2.17" fill="none" stroke="#0a0a0a" stroke-width="1.65"/>
<circle cx="531.1" cy="179.2" r="2.17" fill="none" stroke="#0a0a0a" stroke-width="1.65"/>
<circle cx="538.2" cy="179.6" r="2.17" fill="none" stroke="#0a0a0a" stroke-width="1.65"/>
<circle cx="545.2" cy="179.2" r="2.17" fill="none" stroke="#0a0a0a" stroke-width="1.65"/>
<circle cx="552.2" cy="179.6" r="2.17" fill="none" stroke="#0a0a0a" stroke-width="1.65"/>
<circle cx="559.3" cy="179.2" r="2.17" fill="none" stroke="#0a0a0a" stroke-width="1.65"/>
<circle cx="566.4" cy="179.6" r="2.17" fill="none" stroke="#0a0a0a" stroke-width="1.65"/>
<circle cx="573.4" cy="179.2" r="2.17" fill="none" stroke="#0a0a0a" stroke-width="1.65"/>
<circle cx="520.5" cy="181.4" r="2.17" fill="none" stroke="#0a0a0a" stroke-width="1.65"/>
<circle cx="527.6" cy="181.0" r="2.17" fill="none" stroke="#0a0a0a" stroke-width="1.65"/>
<circle cx="534.6" cy="181.4" r="2.17" fill="none" stroke="#0a0a0a" stroke-width="1.65"/>
<circle cx="541.7" cy="181.0" r="2.17" fill="none" stroke="#0a0a0a" stroke-width="1.65"/>
<circle cx="548.7" cy="181.4" r="2.17" fill="none" stroke="#0a0a0a" stroke-width="1.65"/>
<circle cx="555.8" cy="181.0" r="2.17" fill="none" stroke="#0a0a0a" stroke-width="1.65"/>
<circle cx="562.8" cy="181.4" r="2.17" fill="none" stroke="#0a0a0a" stroke-width="1.65"/>
<circle cx="569.9" cy="181.0" r="2.17" fill="none" stroke="#0a0a0a" stroke-width="1.65"/>
<circle cx="517.0" cy="183.6" r="2.17" fill="none" stroke="#0a0a0a" stroke-width="1.65"/>
<circle cx="524.1" cy="184.0" r="2.17" fill="none" stroke="#0a0a0a" stroke-width="1.65"/>
<circle cx="531.1" cy="183.6" r="2.17" fill="none" stroke="#0a0a0a" stroke-width="1.65"/>
<circle cx="538.2" cy="184.0" r="2.17" fill="none" stroke="#0a0a0a" stroke-width="1.65"/>
<circle cx="545.2" cy="183.6" r="2.17" fill="none" stroke="#0a0a0a" stroke-width="1.65"/>
<circle cx="552.2" cy="184.0" r="2.17" fill="none" stroke="#0a0a0a" stroke-width="1.65"/>
<circle cx="559.3" cy="183.6" r="2.17" fill="none" stroke="#0a0a0a" stroke-width="1.65"/>
<circle cx="566.4" cy="184.0" r="2.17" fill="none" stroke="#0a0a0a" stroke-width="1.65"/>
<circle cx="573.4" cy="183.6" r="2.17" fill="none" stroke="#0a0a0a" stroke-width="1.65"/>
<circle cx="520.5" cy="185.8" r="2.17" fill="none" stroke="#0a0a0a" stroke-width="1.65"/>
<circle cx="527.6" cy="185.4" r="2.17" fill="none" stroke="#0a0a0a" stroke-width="1.65"/>
<circle cx="534.6" cy="185.8" r="2.17" fill="none" stroke="#0a0a0a" stroke-width="1.65"/>
<circle cx="541.7" cy="185.4" r="2.17" fill="none" stroke="#0a0a0a" stroke-width="1.65"/>
<circle cx="548.7" cy="185.8" r="2.17" fill="none" stroke="#0a0a0a" stroke-width="1.65"/>
<circle cx="555.8" cy="185.4" r="2.17" fill="none" stroke="#0a0a0a" stroke-width="1.65"/>
<circle cx="562.8" cy="185.8" r="2.17" fill="none" stroke="#0a0a0a" stroke-width="1.65"/>
<circle cx="569.9" cy="185.4" r="2.17" fill="none" stroke="#0a0a0a" stroke-width="1.65"/>
<circle cx="517.0" cy="188.0" r="2.17" fill="none" stroke="#0a0a0a" stroke-width="1.65"/>
<circle cx="524.1" cy="188.4" r="2.17" fill="none" stroke="#0a0a0a" stroke-width="1.65"/>
<circle cx="531.1" cy="188.0" r="2.17" fill="none" stroke="#0a0a0a" stroke-width="1.65"/>
<circle cx="538.2" cy="188.4" r="2.17" fill="none" stroke="#0a0a0a" stroke-width="1.65"/>
<circle cx="545.2" cy="188.0" r="2.17" fill="none" stroke="#0a0a0a" stroke-width="1.65"/>
<circle cx="552.2" cy="188.4" r="2.17" fill="none" stroke="#0a0a0a" stroke-width="1.65"/>
<circle cx="559.3" cy="188.0" r="2.17" fill="none" stroke="#0a0a0a" stroke-width="1.65"/>
<circle cx="566.4" cy="188.4" r="2.17" fill="none" stroke="#0a0a0a" stroke-width="1.65"/>
<circle cx="573.4" cy="188.0" r="2.17" fill="none" stroke="#0a0a0a" stroke-width="1.65"/>
<circle cx="520.5" cy="190.2" r="2.17" fill="none" stroke="#0a0a0a" stroke-width="1.65"/>
<circle cx="527.6" cy="189.8" r="2.17" fill="none" stroke="#0a0a0a" stroke-width="1.65"/>
<circle cx="534.6" cy="190.2" r="2.17" fill="none" stroke="#0a0a0a" stroke-width="1.65"/>
<circle cx="541.7" cy="189.8" r="2.17" fill="none" stroke="#0a0a0a" stroke-width="1.65"/>
<circle cx="548.7" cy="190.2" r="2.17" fill="none" stroke="#0a0a0a" stroke-width="1.65"/>
<circle cx="555.8" cy="189.8" r="2.17" fill="none" stroke="#0a0a0a" stroke-width="1.65"/>
<circle cx="562.8" cy="190.2" r="2.17" fill="none" stroke="#0a0a0a" stroke-width="1.65"/>
<circle cx="569.9" cy="189.8" r="2.17" fill="none" stroke="#0a0a0a" stroke-width="1.65"/>
<circle cx="517.0" cy="192.4" r="2.17" fill="none" stroke="#0a0a0a" stroke-width="1.65"/>
<circle cx="524.1" cy="192.8" r="2.17" fill="none" stroke="#0a0a0a" stroke-width="1.65"/>
<circle cx="531.1" cy="192.4" r="2.17" fill="none" stroke="#0a0a0a" stroke-width="1.65"/>
<circle cx="538.2" cy="192.8" r="2.17" fill="none" stroke="#0a0a0a" stroke-width="1.65"/>
<circle cx="545.2" cy="192.4" r="2.17" fill="none" stroke="#0a0a0a" stroke-width="1.65"/>
<circle cx="552.2" cy="192.8" r="2.17" fill="none" stroke="#0a0a0a" stroke-width="1.65"/>
<circle cx="559.3" cy="192.4" r="2.17" fill="none" stroke="#0a0a0a" stroke-width="1.65"/>
<circle cx="566.4" cy="192.8" r="2.17" fill="none" stroke="#0a0a0a" stroke-width="1.65"/>
<circle cx="573.4" cy="192.4" r="2.17" fill="none" stroke="#0a0a0a" stroke-width="1.65"/>
<circle cx="517.0" cy="195.0" r="2.17" fill="none" stroke="#0a0a0a" stroke-width="1.65"/>
<circle cx="524.1" cy="195.8" r="2.17" fill="none" stroke="#0a0a0a" stroke-width="1.65"/>
<circle cx="531.1" cy="196.5" r="2.17" fill="none" stroke="#0a0a0a" stroke-width="1.65"/>
<circle cx="559.3" cy="196.1" r="2.17" fill="none" stroke="#0a0a0a" stroke-width="1.65"/>
<circle cx="566.4" cy="195.4" r="2.17" fill="none" stroke="#0a0a0a" stroke-width="1.65"/>
<circle cx="573.4" cy="194.7" r="2.17" fill="none" stroke="#0a0a0a" stroke-width="1.65"/>
<circle cx="538.2" cy="194.6" r="2.17" fill="none" stroke="#0a0a0a" stroke-width="1.65"/>
<circle cx="545.2" cy="194.8" r="2.17" fill="none" stroke="#0a0a0a" stroke-width="1.65"/>
<circle cx="552.3" cy="194.4" r="2.17" fill="none" stroke="#0a0a0a" stroke-width="1.65"/>
<circle cx="538.2" cy="198.7" r="2.17" fill="none" stroke="#0a0a0a" stroke-width="1.65"/>
<circle cx="545.2" cy="199.7" r="2.17" fill="none" stroke="#0a0a0a" stroke-width="1.65"/>
<circle cx="552.3" cy="196.9" r="2.17" fill="none" stroke="#0a0a0a" stroke-width="1.65"/>
<circle cx="538.2" cy="203.7" r="2.17" fill="none" stroke="#0a0a0a" stroke-width="1.65"/>
<circle cx="559.3" cy="203.0" r="2.17" fill="none" stroke="#0a0a0a" stroke-width="1.65"/>
<circle cx="552.3" cy="205.2" r="2.17" fill="none" stroke="#0a0a0a" stroke-width="1.65"/>
<circle cx="545.2" cy="208.8" r="2.17" fill="none" stroke="#0a0a0a" stroke-width="1.65"/>
<circle cx="637.4" cy="47.4" r="2.25" fill="#0a0a0a"/>
<circle cx="637.4" cy="99.7" r="2.25" fill="#0a0a0a"/>
<circle cx="637.4" cy="116.6" r="2.25" fill="#0a0a0a"/>
<circle cx="630.2" cy="125.1" r="2.25" fill="#0a0a0a"/>
<circle cx="637.4" cy="125.1" r="2.25" fill="#0a0a0a"/>
<circle cx="637.4" cy="132.2" r="2.25" fill="#0a0a0a"/>
<circle cx="630.2" cy="142.7" r="2.25" fill="#0a0a0a"/>
<circle cx="637.2" cy="144.5" r="2.25" fill="#0a0a0a"/>
<circle cx="644.2" cy="143.5" r="2.25" fill="#0a0a0a"/>
<circle cx="623.3" cy="153.0" r="2.25" fill="#0a0a0a"/>
<circle cx="630.2" cy="151.7" r="2.25" fill="#0a0a0a"/>
<circle cx="637.2" cy="151.8" r="2.25" fill="#0a0a0a"/>
<circle cx="644.2" cy="151.0" r="2.25" fill="#0a0a0a"/>
<circle cx="651.3" cy="155.1" r="2.25" fill="#0a0a0a"/>
<circle cx="630.2" cy="158.7" r="2.25" fill="#0a0a0a"/>
<circle cx="637.2" cy="159.5" r="2.25" fill="#0a0a0a"/>
<circle cx="644.2" cy="159.2" r="2.25" fill="#0a0a0a"/>
<circle cx="616.3" cy="164.9" r="2.25" fill="#0a0a0a"/>
<circle cx="623.3" cy="167.7" r="2.25" fill="#0a0a0a"/>
<circle cx="651.3" cy="167.3" r="2.25" fill="#0a0a0a"/>
<circle cx="630.2" cy="170.1" r="2.25" fill="#0a0a0a"/>
<circle cx="644.2" cy="169.3" r="2.25" fill="#0a0a0a"/>
<circle cx="637.2" cy="171.2" r="2.25" fill="#0a0a0a"/>
<circle cx="609.3" cy="172.1" r="2.25" fill="#0a0a0a"/>
<circle cx="665.3" cy="172.1" r="2.25" fill="#0a0a0a"/>
<circle cx="616.3" cy="174.2" r="2.25" fill="#0a0a0a"/>
<circle cx="658.3" cy="175.0" r="2.25" fill="#0a0a0a"/>
<circle cx="623.3" cy="176.6" r="2.25" fill="#0a0a0a"/>
<circle cx="630.2" cy="178.3" r="2.25" fill="#0a0a0a"/>
<circle cx="637.2" cy="178.3" r="2.25" fill="#0a0a0a"/>
<circle cx="644.2" cy="178.3" r="2.25" fill="#0a0a0a"/>
<circle cx="651.3" cy="178.3" r="2.25" fill="#0a0a0a"/>
<circle cx="612.7" cy="179.1" r="2.25" fill="#0a0a0a"/>
<circle cx="619.8" cy="180.4" r="2.25" fill="#0a0a0a"/>
<circle cx="654.9" cy="179.4" r="2.25" fill="#0a0a0a"/>
<circle cx="661.9" cy="179.1" r="2.25" fill="#0a0a0a"/>
<circle cx="609.3" cy="183.2" r="2.25" fill="#0a0a0a"/>
<circle cx="626.8" cy="182.3" r="2.25" fill="#0a0a0a"/>
<circle cx="633.8" cy="182.3" r="2.25" fill="#0a0a0a"/>
<circle cx="640.8" cy="182.3" r="2.25" fill="#0a0a0a"/>
<circle cx="647.8" cy="182.3" r="2.25" fill="#0a0a0a"/>
<circle cx="658.3" cy="183.7" r="2.25" fill="#0a0a0a"/>
<circle cx="665.3" cy="182.8" r="2.25" fill="#0a0a0a"/>
<circle cx="616.3" cy="185.3" r="2.25" fill="#0a0a0a"/>
<circle cx="623.3" cy="185.9" r="2.25" fill="#0a0a0a"/>
<circle cx="630.2" cy="185.9" r="2.25" fill="#0a0a0a"/>
<circle cx="637.2" cy="186.4" r="2.25" fill="#0a0a0a"/>
<circle cx="644.2" cy="186.4" r="2.25" fill="#0a0a0a"/>
<circle cx="651.3" cy="185.9" r="2.25" fill="#0a0a0a"/>
<circle cx="661.9" cy="186.4" r="2.25" fill="#0a0a0a"/>
<circle cx="619.8" cy="187.6" r="2.25" fill="#0a0a0a"/>
<circle cx="626.8" cy="188.2" r="2.25" fill="#0a0a0a"/>
<circle cx="633.8" cy="188.6" r="2.25" fill="#0a0a0a"/>
<circle cx="640.8" cy="188.8" r="2.25" fill="#0a0a0a"/>
<circle cx="647.8" cy="188.4" r="2.25" fill="#0a0a0a"/>
<circle cx="609.3" cy="189.7" r="2.25" fill="#0a0a0a"/>
<circle cx="654.9" cy="188.9" r="2.25" fill="#0a0a0a"/>
<circle cx="616.3" cy="191.3" r="2.25" fill="#0a0a0a"/>
<circle cx="623.3" cy="191.8" r="2.25" fill="#0a0a0a"/>
<circle cx="630.2" cy="192.1" r="2.25" fill="#0a0a0a"/>
<circle cx="644.2" cy="192.5" r="2.25" fill="#0a0a0a"/>
<circle cx="651.3" cy="191.3" r="2.25" fill="#0a0a0a"/>
<circle cx="658.3" cy="191.3" r="2.25" fill="#0a0a0a"/>
<circle cx="665.3" cy="191.0" r="2.25" fill="#0a0a0a"/>
<circle cx="637.2" cy="193.4" r="2.25" fill="#0a0a0a"/>
<circle cx="616.3" cy="196.2" r="2.25" fill="#0a0a0a"/>
<circle cx="658.3" cy="195.7" r="2.25" fill="#0a0a0a"/>
<circle cx="651.3" cy="198.3" r="2.25" fill="#0a0a0a"/>
<circle cx="623.3" cy="200.6" r="2.25" fill="#0a0a0a"/>
<circle cx="630.2" cy="201.1" r="2.25" fill="#0a0a0a"/>
<circle cx="637.2" cy="201.9" r="2.25" fill="#0a0a0a"/>
<circle cx="644.2" cy="200.6" r="2.25" fill="#0a0a0a"/>
<circle cx="630.2" cy="208.0" r="2.25" fill="#0a0a0a"/>
<circle cx="651.3" cy="207.7" r="2.25" fill="#0a0a0a"/>
<circle cx="644.2" cy="209.6" r="2.25" fill="#0a0a0a"/>
<circle cx="637.2" cy="211.7" r="2.25" fill="#0a0a0a"/>
<circle cx="545.2" cy="170.2" r="2.60" fill="#0a0a0a"/>
<line x1="606.50" y1="182.00" x2="667.80" y2="182.00" stroke="#000" stroke-width="1.2"/>
<line x1="623.30" y1="167.30" x2="651.30" y2="167.30" stroke="#000" stroke-width="1.2"/>
<line x1="637.20" y1="167.30" x2="637.20" y2="182.00" stroke="#000" stroke-width="1.2"/>
</g>
<g>
<line x1="38.00" y1="322.20" x2="38.00" y2="481.00" stroke="#3a3a3a" stroke-width="1.9"/>
<line x1="38.00" y1="480.40" x2="195.60" y2="480.40" stroke="#3a3a3a" stroke-width="1.2"/>
<line x1="34.40" y1="480.40" x2="38.00" y2="480.40" stroke="#3a3a3a" stroke-width="1.2"/>
<text x="0.00" y="0.00" font-size="7.0" font-weight="bold" stroke="#111" stroke-width="0.2" text-anchor="end" fill="#111" transform="translate(34.20 482.60) scale(0.95 1)">0</text>
<line x1="34.40" y1="441.00" x2="38.00" y2="441.00" stroke="#3a3a3a" stroke-width="1.2"/>
<text x="0.00" y="0.00" font-size="7.0" font-weight="bold" stroke="#111" stroke-width="0.2" text-anchor="end" fill="#111" transform="translate(34.20 443.20) scale(0.95 1)">0</text>
<text x="0.00" y="0.00" font-size="7.0" font-weight="bold" stroke="#111" stroke-width="0.2" text-anchor="end" fill="#111" transform="translate(30.20 451.00) scale(0.95 1)">1</text>
<line x1="34.40" y1="401.60" x2="38.00" y2="401.60" stroke="#3a3a3a" stroke-width="1.2"/>
<text x="0.00" y="0.00" font-size="7.0" font-weight="bold" stroke="#111" stroke-width="0.2" text-anchor="end" fill="#111" transform="translate(34.20 403.80) scale(0.95 1)">0</text>
<text x="0.00" y="0.00" font-size="7.0" font-weight="bold" stroke="#111" stroke-width="0.2" text-anchor="end" fill="#111" transform="translate(30.20 411.60) scale(0.95 1)">2</text>
<line x1="34.40" y1="362.20" x2="38.00" y2="362.20" stroke="#3a3a3a" stroke-width="1.2"/>
<text x="0.00" y="0.00" font-size="7.0" font-weight="bold" stroke="#111" stroke-width="0.2" text-anchor="end" fill="#111" transform="translate(34.20 364.40) scale(0.95 1)">0</text>
<text x="0.00" y="0.00" font-size="7.0" font-weight="bold" stroke="#111" stroke-width="0.2" text-anchor="end" fill="#111" transform="translate(30.20 372.20) scale(0.95 1)">3</text>
<line x1="34.40" y1="322.80" x2="38.00" y2="322.80" stroke="#3a3a3a" stroke-width="1.2"/>
<text x="0.00" y="0.00" font-size="7.0" font-weight="bold" stroke="#111" stroke-width="0.2" text-anchor="end" fill="#111" transform="translate(34.20 325.00) scale(0.95 1)">0</text>
<text x="0.00" y="0.00" font-size="7.0" font-weight="bold" stroke="#111" stroke-width="0.2" text-anchor="end" fill="#111" transform="translate(30.20 332.80) scale(0.95 1)">4</text>
<line x1="77.40" y1="480.40" x2="77.40" y2="484.10" stroke="#3a3a3a" stroke-width="1.2"/>
<text x="79.30" y="491.00" font-size="7.4" font-weight="bold" stroke="#111" stroke-width="0.2" text-anchor="end" fill="#111" transform="rotate(-45 79.30 491.00)">NHS</text>
<line x1="155.90" y1="480.40" x2="155.90" y2="484.10" stroke="#3a3a3a" stroke-width="1.2"/>
<text x="157.80" y="491.00" font-size="7.4" font-weight="bold" stroke="#111" stroke-width="0.2" text-anchor="end" fill="#111" transform="rotate(-45 157.80 491.00)">SLE</text>
<text x="20.80" y="409.20" font-size="7.7" font-weight="bold" stroke="#111" stroke-width="0.2" text-anchor="middle" fill="#111" transform="rotate(-90 20.80 409.20)">pg/ml</text>
<text x="110.20" y="276.10" font-size="10.0" font-weight="bold" stroke="#111" stroke-width="0.2" text-anchor="middle" fill="#111">IL-33</text>
<line x1="77.50" y1="316.10" x2="149.30" y2="316.10" stroke="#2e2e2e" stroke-width="1.5"/>
<line x1="77.50" y1="312.70" x2="77.50" y2="319.70" stroke="#2e2e2e" stroke-width="1.4"/>
<line x1="149.30" y1="312.70" x2="149.30" y2="319.70" stroke="#2e2e2e" stroke-width="1.4"/>
<text x="0.00" y="0.00" font-size="8.37" stroke="#1c1c1c" stroke-width="0.25" text-anchor="start" fill="#1c1c1c" transform="translate(98.00 312.00) scale(0.945 1)">p = 0.002</text>
<circle cx="77.3" cy="362.6" r="1.88" fill="none" stroke="#0a0a0a" stroke-width="1.55"/>
<circle cx="77.3" cy="417.5" r="1.88" fill="none" stroke="#0a0a0a" stroke-width="1.55"/>
<circle cx="71.1" cy="428.3" r="1.88" fill="none" stroke="#0a0a0a" stroke-width="1.55"/>
<circle cx="77.3" cy="428.7" r="1.88" fill="none" stroke="#0a0a0a" stroke-width="1.55"/>
<circle cx="83.2" cy="433.4" r="1.88" fill="none" stroke="#0a0a0a" stroke-width="1.55"/>
<circle cx="77.3" cy="438.9" r="1.88" fill="none" stroke="#0a0a0a" stroke-width="1.55"/>
<circle cx="59.4" cy="456.9" r="1.88" fill="none" stroke="#0a0a0a" stroke-width="1.55"/>
<circle cx="65.4" cy="458.6" r="1.88" fill="none" stroke="#0a0a0a" stroke-width="1.55"/>
<circle cx="71.3" cy="459.8" r="1.88" fill="none" stroke="#0a0a0a" stroke-width="1.55"/>
<circle cx="74.2" cy="462.0" r="1.88" fill="none" stroke="#0a0a0a" stroke-width="1.55"/>
<circle cx="77.3" cy="461.2" r="1.88" fill="none" stroke="#0a0a0a" stroke-width="1.55"/>
<circle cx="80.3" cy="462.0" r="1.88" fill="none" stroke="#0a0a0a" stroke-width="1.55"/>
<circle cx="83.2" cy="459.3" r="1.88" fill="none" stroke="#0a0a0a" stroke-width="1.55"/>
<circle cx="89.2" cy="458.1" r="1.88" fill="none" stroke="#0a0a0a" stroke-width="1.55"/>
<circle cx="95.3" cy="455.8" r="1.88" fill="none" stroke="#0a0a0a" stroke-width="1.55"/>
<circle cx="53.3" cy="463.2" r="1.88" fill="none" stroke="#0a0a0a" stroke-width="1.55"/>
<circle cx="59.4" cy="465.0" r="1.88" fill="none" stroke="#0a0a0a" stroke-width="1.55"/>
<circle cx="95.3" cy="465.5" r="1.88" fill="none" stroke="#0a0a0a" stroke-width="1.55"/>
<circle cx="101.3" cy="463.2" r="1.88" fill="none" stroke="#0a0a0a" stroke-width="1.55"/>
<circle cx="65.3" cy="467.3" r="1.88" fill="none" stroke="#0a0a0a" stroke-width="1.55"/>
<circle cx="71.3" cy="467.8" r="1.88" fill="none" stroke="#0a0a0a" stroke-width="1.55"/>
<circle cx="77.3" cy="467.3" r="1.88" fill="none" stroke="#0a0a0a" stroke-width="1.55"/>
<circle cx="83.3" cy="467.8" r="1.88" fill="none" stroke="#0a0a0a" stroke-width="1.55"/>
<circle cx="89.3" cy="467.3" r="1.88" fill="none" stroke="#0a0a0a" stroke-width="1.55"/>
<circle cx="68.3" cy="468.6" r="1.88" fill="none" stroke="#0a0a0a" stroke-width="1.55"/>
<circle cx="74.3" cy="469.1" r="1.88" fill="none" stroke="#0a0a0a" stroke-width="1.55"/>
<circle cx="80.3" cy="468.6" r="1.88" fill="none" stroke="#0a0a0a" stroke-width="1.55"/>
<circle cx="86.3" cy="469.1" r="1.88" fill="none" stroke="#0a0a0a" stroke-width="1.55"/>
<circle cx="65.3" cy="470.4" r="1.88" fill="none" stroke="#0a0a0a" stroke-width="1.55"/>
<circle cx="71.3" cy="470.9" r="1.88" fill="none" stroke="#0a0a0a" stroke-width="1.55"/>
<circle cx="77.3" cy="470.4" r="1.88" fill="none" stroke="#0a0a0a" stroke-width="1.55"/>
<circle cx="83.3" cy="470.9" r="1.88" fill="none" stroke="#0a0a0a" stroke-width="1.55"/>
<circle cx="89.3" cy="470.4" r="1.88" fill="none" stroke="#0a0a0a" stroke-width="1.55"/>
<circle cx="68.3" cy="472.0" r="1.88" fill="none" stroke="#0a0a0a" stroke-width="1.55"/>
<circle cx="74.3" cy="471.5" r="1.88" fill="none" stroke="#0a0a0a" stroke-width="1.55"/>
<circle cx="80.3" cy="472.0" r="1.88" fill="none" stroke="#0a0a0a" stroke-width="1.55"/>
<circle cx="86.3" cy="471.5" r="1.88" fill="none" stroke="#0a0a0a" stroke-width="1.55"/>
<circle cx="65.3" cy="473.8" r="1.88" fill="none" stroke="#0a0a0a" stroke-width="1.55"/>
<circle cx="71.3" cy="474.3" r="1.88" fill="none" stroke="#0a0a0a" stroke-width="1.55"/>
<circle cx="77.3" cy="473.8" r="1.88" fill="none" stroke="#0a0a0a" stroke-width="1.55"/>
<circle cx="83.3" cy="474.3" r="1.88" fill="none" stroke="#0a0a0a" stroke-width="1.55"/>
<circle cx="89.3" cy="473.8" r="1.88" fill="none" stroke="#0a0a0a" stroke-width="1.55"/>
<circle cx="62.3" cy="475.6" r="1.88" fill="none" stroke="#0a0a0a" stroke-width="1.55"/>
<circle cx="68.3" cy="476.1" r="1.88" fill="none" stroke="#0a0a0a" stroke-width="1.55"/>
<circle cx="74.3" cy="475.6" r="1.88" fill="none" stroke="#0a0a0a" stroke-width="1.55"/>
<circle cx="80.3" cy="476.1" r="1.88" fill="none" stroke="#0a0a0a" stroke-width="1.55"/>
<circle cx="86.3" cy="475.6" r="1.88" fill="none" stroke="#0a0a0a" stroke-width="1.55"/>
<circle cx="92.3" cy="476.1" r="1.88" fill="none" stroke="#0a0a0a" stroke-width="1.55"/>
<circle cx="59.3" cy="477.0" r="1.88" fill="none" stroke="#0a0a0a" stroke-width="1.55"/>
<circle cx="65.3" cy="477.5" r="1.88" fill="none" stroke="#0a0a0a" stroke-width="1.55"/>
<circle cx="71.3" cy="477.0" r="1.88" fill="none" stroke="#0a0a0a" stroke-width="1.55"/>
<circle cx="77.3" cy="477.5" r="1.88" fill="none" stroke="#0a0a0a" stroke-width="1.55"/>
<circle cx="83.3" cy="477.0" r="1.88" fill="none" stroke="#0a0a0a" stroke-width="1.55"/>
<circle cx="89.3" cy="477.5" r="1.88" fill="none" stroke="#0a0a0a" stroke-width="1.55"/>
<circle cx="95.3" cy="477.0" r="1.88" fill="none" stroke="#0a0a0a" stroke-width="1.55"/>
<circle cx="53.3" cy="472.4" r="1.88" fill="none" stroke="#0a0a0a" stroke-width="1.55"/>
<circle cx="56.4" cy="470.7" r="1.88" fill="none" stroke="#0a0a0a" stroke-width="1.55"/>
<circle cx="59.4" cy="472.8" r="1.88" fill="none" stroke="#0a0a0a" stroke-width="1.55"/>
<circle cx="95.3" cy="471.9" r="1.88" fill="none" stroke="#0a0a0a" stroke-width="1.55"/>
<circle cx="98.4" cy="470.7" r="1.88" fill="none" stroke="#0a0a0a" stroke-width="1.55"/>
<circle cx="101.3" cy="472.4" r="1.88" fill="none" stroke="#0a0a0a" stroke-width="1.55"/>
<circle cx="53.3" cy="480.3" r="1.88" fill="none" stroke="#0a0a0a" stroke-width="1.55"/>
<circle cx="56.3" cy="480.3" r="1.88" fill="none" stroke="#0a0a0a" stroke-width="1.55"/>
<circle cx="59.3" cy="480.3" r="1.88" fill="none" stroke="#0a0a0a" stroke-width="1.55"/>
<circle cx="62.3" cy="480.3" r="1.88" fill="none" stroke="#0a0a0a" stroke-width="1.55"/>
<circle cx="65.3" cy="480.3" r="1.88" fill="none" stroke="#0a0a0a" stroke-width="1.55"/>
<circle cx="68.3" cy="480.3" r="1.88" fill="none" stroke="#0a0a0a" stroke-width="1.55"/>
<circle cx="71.3" cy="480.3" r="1.88" fill="none" stroke="#0a0a0a" stroke-width="1.55"/>
<circle cx="74.3" cy="480.3" r="1.88" fill="none" stroke="#0a0a0a" stroke-width="1.55"/>
<circle cx="77.3" cy="480.3" r="1.88" fill="none" stroke="#0a0a0a" stroke-width="1.55"/>
<circle cx="80.3" cy="480.3" r="1.88" fill="none" stroke="#0a0a0a" stroke-width="1.55"/>
<circle cx="83.3" cy="480.3" r="1.88" fill="none" stroke="#0a0a0a" stroke-width="1.55"/>
<circle cx="86.3" cy="480.3" r="1.88" fill="none" stroke="#0a0a0a" stroke-width="1.55"/>
<circle cx="89.3" cy="480.3" r="1.88" fill="none" stroke="#0a0a0a" stroke-width="1.55"/>
<circle cx="92.3" cy="480.3" r="1.88" fill="none" stroke="#0a0a0a" stroke-width="1.55"/>
<circle cx="95.3" cy="480.3" r="1.88" fill="none" stroke="#0a0a0a" stroke-width="1.55"/>
<circle cx="98.3" cy="480.3" r="1.88" fill="none" stroke="#0a0a0a" stroke-width="1.55"/>
<circle cx="101.3" cy="480.3" r="1.88" fill="none" stroke="#0a0a0a" stroke-width="1.55"/>
<circle cx="156.0" cy="425.5" r="2.00" fill="#0a0a0a"/>
<circle cx="156.0" cy="443.5" r="2.00" fill="#0a0a0a"/>
<circle cx="156.0" cy="452.1" r="2.00" fill="#0a0a0a"/>
<circle cx="162.0" cy="451.0" r="2.00" fill="#0a0a0a"/>
<circle cx="143.9" cy="457.9" r="2.00" fill="#0a0a0a"/>
<circle cx="149.9" cy="460.3" r="2.00" fill="#0a0a0a"/>
<circle cx="156.0" cy="461.8" r="2.00" fill="#0a0a0a"/>
<circle cx="162.0" cy="458.5" r="2.00" fill="#0a0a0a"/>
<circle cx="137.8" cy="465.1" r="2.00" fill="#0a0a0a"/>
<circle cx="143.9" cy="466.1" r="2.00" fill="#0a0a0a"/>
<circle cx="149.9" cy="467.1" r="2.00" fill="#0a0a0a"/>
<circle cx="153.1" cy="468.0" r="2.00" fill="#0a0a0a"/>
<circle cx="156.0" cy="468.0" r="2.00" fill="#0a0a0a"/>
<circle cx="162.0" cy="467.1" r="2.00" fill="#0a0a0a"/>
<circle cx="168.1" cy="466.4" r="2.00" fill="#0a0a0a"/>
<circle cx="174.1" cy="465.6" r="2.00" fill="#0a0a0a"/>
<circle cx="131.8" cy="469.4" r="2.00" fill="#0a0a0a"/>
<circle cx="180.1" cy="469.4" r="2.00" fill="#0a0a0a"/>
<circle cx="137.8" cy="470.4" r="2.00" fill="#0a0a0a"/>
<circle cx="174.1" cy="469.7" r="2.00" fill="#0a0a0a"/>
<circle cx="131.8" cy="474.0" r="2.00" fill="#0a0a0a"/>
<circle cx="137.8" cy="474.0" r="2.00" fill="#0a0a0a"/>
<circle cx="143.9" cy="473.3" r="2.00" fill="#0a0a0a"/>
<circle cx="149.9" cy="473.6" r="2.00" fill="#0a0a0a"/>
<circle cx="156.0" cy="473.7" r="2.00" fill="#0a0a0a"/>
<circle cx="162.0" cy="473.6" r="2.00" fill="#0a0a0a"/>
<circle cx="168.1" cy="473.3" r="2.00" fill="#0a0a0a"/>
<circle cx="174.1" cy="473.3" r="2.00" fill="#0a0a0a"/>
<circle cx="180.1" cy="474.0" r="2.00" fill="#0a0a0a"/>
<circle cx="143.9" cy="476.2" r="2.00" fill="#0a0a0a"/>
<circle cx="168.1" cy="476.6" r="2.00" fill="#0a0a0a"/>
<circle cx="131.8" cy="480.4" r="2.00" fill="#0a0a0a"/>
<circle cx="134.9" cy="480.4" r="2.00" fill="#0a0a0a"/>
<circle cx="137.9" cy="480.4" r="2.00" fill="#0a0a0a"/>
<circle cx="140.9" cy="480.4" r="2.00" fill="#0a0a0a"/>
<circle cx="143.9" cy="480.4" r="2.00" fill="#0a0a0a"/>
<circle cx="146.9" cy="480.4" r="2.00" fill="#0a0a0a"/>
<circle cx="150.0" cy="480.4" r="2.00" fill="#0a0a0a"/>
<circle cx="153.0" cy="480.4" r="2.00" fill="#0a0a0a"/>
<circle cx="156.0" cy="480.4" r="2.00" fill="#0a0a0a"/>
<circle cx="159.0" cy="480.4" r="2.00" fill="#0a0a0a"/>
<circle cx="162.0" cy="480.4" r="2.00" fill="#0a0a0a"/>
<circle cx="165.1" cy="480.4" r="2.00" fill="#0a0a0a"/>
<circle cx="168.1" cy="480.4" r="2.00" fill="#0a0a0a"/>
<circle cx="171.1" cy="480.4" r="2.00" fill="#0a0a0a"/>
<circle cx="174.1" cy="480.4" r="2.00" fill="#0a0a0a"/>
<circle cx="177.1" cy="480.4" r="2.00" fill="#0a0a0a"/>
<circle cx="180.2" cy="480.4" r="2.00" fill="#0a0a0a"/>
<line x1="143.00" y1="470.10" x2="168.90" y2="470.10" stroke="#000" stroke-width="1.2"/>
<line x1="156.00" y1="470.10" x2="156.00" y2="482.80" stroke="#000" stroke-width="1.2"/>
</g>
<g>
<line x1="271.40" y1="303.40" x2="271.40" y2="480.60" stroke="#111" stroke-width="1.4"/>
<line x1="271.40" y1="480.00" x2="447.30" y2="480.00" stroke="#111" stroke-width="1.2"/>
<line x1="267.80" y1="480.00" x2="271.40" y2="480.00" stroke="#111" stroke-width="1.2"/>
<text x="0.00" y="0.00" font-size="8.5" font-weight="bold" stroke="#111" stroke-width="0.2" text-anchor="end" fill="#111" transform="translate(267.70 482.85) scale(0.93 1)">0</text>
<line x1="267.80" y1="436.00" x2="271.40" y2="436.00" stroke="#111" stroke-width="1.2"/>
<text x="0.00" y="0.00" font-size="8.5" font-weight="bold" stroke="#111" stroke-width="0.2" text-anchor="end" fill="#111" transform="translate(267.70 438.85) scale(0.93 1)">20000</text>
<line x1="267.80" y1="392.00" x2="271.40" y2="392.00" stroke="#111" stroke-width="1.2"/>
<text x="0.00" y="0.00" font-size="8.5" font-weight="bold" stroke="#111" stroke-width="0.2" text-anchor="end" fill="#111" transform="translate(267.70 394.85) scale(0.93 1)">40000</text>
<line x1="267.80" y1="348.00" x2="271.40" y2="348.00" stroke="#111" stroke-width="1.2"/>
<text x="0.00" y="0.00" font-size="8.5" font-weight="bold" stroke="#111" stroke-width="0.2" text-anchor="end" fill="#111" transform="translate(267.70 350.85) scale(0.93 1)">60000</text>
<line x1="267.80" y1="304.00" x2="271.40" y2="304.00" stroke="#111" stroke-width="1.2"/>
<text x="0.00" y="0.00" font-size="8.5" font-weight="bold" stroke="#111" stroke-width="0.2" text-anchor="end" fill="#111" transform="translate(267.70 306.85) scale(0.93 1)">80000</text>
<line x1="315.10" y1="480.00" x2="315.10" y2="483.70" stroke="#111" stroke-width="1.2"/>
<text x="318.00" y="492.40" font-size="8.2" font-weight="bold" stroke="#111" stroke-width="0.2" text-anchor="end" fill="#111" transform="rotate(-45 318.00 492.40)">NHS</text>
<line x1="403.00" y1="480.00" x2="403.00" y2="483.70" stroke="#111" stroke-width="1.2"/>
<text x="405.90" y="492.40" font-size="8.2" font-weight="bold" stroke="#111" stroke-width="0.2" text-anchor="end" fill="#111" transform="rotate(-45 405.90 492.40)">SLE</text>
<text x="239.80" y="391.50" font-size="8.7" font-weight="bold" stroke="#111" stroke-width="0.2" text-anchor="middle" fill="#111" transform="rotate(-90 239.80 391.50)">pg/ml</text>
<text x="345.40" y="272.80" font-size="10.4" font-weight="bold" stroke="#111" stroke-width="0.2" text-anchor="middle" fill="#111">sIL-1R4</text>
<line x1="314.70" y1="300.00" x2="395.30" y2="300.00" stroke="#2e2e2e" stroke-width="1.5"/>
<line x1="314.70" y1="296.60" x2="314.70" y2="303.60" stroke="#2e2e2e" stroke-width="1.4"/>
<line x1="395.30" y1="296.60" x2="395.30" y2="303.60" stroke="#2e2e2e" stroke-width="1.4"/>
<text x="0.00" y="0.00" font-size="9.22" stroke="#1c1c1c" stroke-width="0.25" text-anchor="start" fill="#1c1c1c" transform="translate(336.20 295.30) scale(0.945 1)">p&lt;0.0001</text>
<circle cx="302.0" cy="431.5" r="2.17" fill="none" stroke="#0a0a0a" stroke-width="1.65"/>
<circle cx="315.4" cy="429.4" r="2.17" fill="none" stroke="#0a0a0a" stroke-width="1.65"/>
<circle cx="308.7" cy="437.2" r="2.17" fill="none" stroke="#0a0a0a" stroke-width="1.65"/>
<circle cx="315.4" cy="438.1" r="2.17" fill="none" stroke="#0a0a0a" stroke-width="1.65"/>
<circle cx="322.2" cy="436.8" r="2.17" fill="none" stroke="#0a0a0a" stroke-width="1.65"/>
<circle cx="288.5" cy="440.2" r="2.17" fill="none" stroke="#0a0a0a" stroke-width="1.65"/>
<circle cx="295.2" cy="442.2" r="2.17" fill="none" stroke="#0a0a0a" stroke-width="1.65"/>
<circle cx="302.0" cy="443.1" r="2.17" fill="none" stroke="#0a0a0a" stroke-width="1.65"/>
<circle cx="328.9" cy="443.3" r="2.17" fill="none" stroke="#0a0a0a" stroke-width="1.65"/>
<circle cx="335.7" cy="442.8" r="2.17" fill="none" stroke="#0a0a0a" stroke-width="1.65"/>
<circle cx="342.4" cy="440.6" r="2.17" fill="none" stroke="#0a0a0a" stroke-width="1.65"/>
<circle cx="308.7" cy="444.7" r="2.17" fill="none" stroke="#0a0a0a" stroke-width="1.65"/>
<circle cx="312.1" cy="446.0" r="2.17" fill="none" stroke="#0a0a0a" stroke-width="1.65"/>
<circle cx="315.4" cy="445.0" r="2.17" fill="none" stroke="#0a0a0a" stroke-width="1.65"/>
<circle cx="318.8" cy="446.0" r="2.17" fill="none" stroke="#0a0a0a" stroke-width="1.65"/>
<circle cx="322.2" cy="445.0" r="2.17" fill="none" stroke="#0a0a0a" stroke-width="1.65"/>
<circle cx="288.5" cy="448.9" r="2.17" fill="none" stroke="#0a0a0a" stroke-width="1.65"/>
<circle cx="295.2" cy="449.7" r="2.17" fill="none" stroke="#0a0a0a" stroke-width="1.65"/>
<circle cx="302.0" cy="450.3" r="2.17" fill="none" stroke="#0a0a0a" stroke-width="1.65"/>
<circle cx="328.9" cy="449.7" r="2.17" fill="none" stroke="#0a0a0a" stroke-width="1.65"/>
<circle cx="335.7" cy="448.9" r="2.17" fill="none" stroke="#0a0a0a" stroke-width="1.65"/>
<circle cx="342.4" cy="447.5" r="2.17" fill="none" stroke="#0a0a0a" stroke-width="1.65"/>
<circle cx="305.3" cy="449.4" r="2.17" fill="none" stroke="#0a0a0a" stroke-width="1.65"/>
<circle cx="312.0" cy="449.9" r="2.17" fill="none" stroke="#0a0a0a" stroke-width="1.65"/>
<circle cx="318.8" cy="449.4" r="2.17" fill="none" stroke="#0a0a0a" stroke-width="1.65"/>
<circle cx="325.5" cy="449.9" r="2.17" fill="none" stroke="#0a0a0a" stroke-width="1.65"/>
<circle cx="308.7" cy="451.2" r="2.17" fill="none" stroke="#0a0a0a" stroke-width="1.65"/>
<circle cx="315.4" cy="451.7" r="2.17" fill="none" stroke="#0a0a0a" stroke-width="1.65"/>
<circle cx="322.1" cy="451.2" r="2.17" fill="none" stroke="#0a0a0a" stroke-width="1.65"/>
<circle cx="291.8" cy="453.5" r="2.17" fill="none" stroke="#0a0a0a" stroke-width="1.65"/>
<circle cx="298.5" cy="454.0" r="2.17" fill="none" stroke="#0a0a0a" stroke-width="1.65"/>
<circle cx="305.3" cy="453.5" r="2.17" fill="none" stroke="#0a0a0a" stroke-width="1.65"/>
<circle cx="312.0" cy="454.0" r="2.17" fill="none" stroke="#0a0a0a" stroke-width="1.65"/>
<circle cx="318.8" cy="453.5" r="2.17" fill="none" stroke="#0a0a0a" stroke-width="1.65"/>
<circle cx="325.5" cy="454.0" r="2.17" fill="none" stroke="#0a0a0a" stroke-width="1.65"/>
<circle cx="332.2" cy="453.5" r="2.17" fill="none" stroke="#0a0a0a" stroke-width="1.65"/>
<circle cx="339.0" cy="454.0" r="2.17" fill="none" stroke="#0a0a0a" stroke-width="1.65"/>
<circle cx="295.2" cy="455.3" r="2.17" fill="none" stroke="#0a0a0a" stroke-width="1.65"/>
<circle cx="301.9" cy="455.8" r="2.17" fill="none" stroke="#0a0a0a" stroke-width="1.65"/>
<circle cx="308.7" cy="455.3" r="2.17" fill="none" stroke="#0a0a0a" stroke-width="1.65"/>
<circle cx="315.4" cy="455.8" r="2.17" fill="none" stroke="#0a0a0a" stroke-width="1.65"/>
<circle cx="322.1" cy="455.3" r="2.17" fill="none" stroke="#0a0a0a" stroke-width="1.65"/>
<circle cx="328.9" cy="455.8" r="2.17" fill="none" stroke="#0a0a0a" stroke-width="1.65"/>
<circle cx="335.6" cy="455.3" r="2.17" fill="none" stroke="#0a0a0a" stroke-width="1.65"/>
<circle cx="298.5" cy="456.6" r="2.17" fill="none" stroke="#0a0a0a" stroke-width="1.65"/>
<circle cx="305.3" cy="457.1" r="2.17" fill="none" stroke="#0a0a0a" stroke-width="1.65"/>
<circle cx="312.0" cy="456.6" r="2.17" fill="none" stroke="#0a0a0a" stroke-width="1.65"/>
<circle cx="318.8" cy="457.1" r="2.17" fill="none" stroke="#0a0a0a" stroke-width="1.65"/>
<circle cx="325.5" cy="456.6" r="2.17" fill="none" stroke="#0a0a0a" stroke-width="1.65"/>
<circle cx="332.2" cy="457.1" r="2.17" fill="none" stroke="#0a0a0a" stroke-width="1.65"/>
<circle cx="288.4" cy="458.1" r="2.17" fill="none" stroke="#0a0a0a" stroke-width="1.65"/>
<circle cx="295.2" cy="458.6" r="2.17" fill="none" stroke="#0a0a0a" stroke-width="1.65"/>
<circle cx="301.9" cy="458.1" r="2.17" fill="none" stroke="#0a0a0a" stroke-width="1.65"/>
<circle cx="308.7" cy="458.6" r="2.17" fill="none" stroke="#0a0a0a" stroke-width="1.65"/>
<circle cx="315.4" cy="458.1" r="2.17" fill="none" stroke="#0a0a0a" stroke-width="1.65"/>
<circle cx="322.1" cy="458.6" r="2.17" fill="none" stroke="#0a0a0a" stroke-width="1.65"/>
<circle cx="328.9" cy="458.1" r="2.17" fill="none" stroke="#0a0a0a" stroke-width="1.65"/>
<circle cx="335.6" cy="458.6" r="2.17" fill="none" stroke="#0a0a0a" stroke-width="1.65"/>
<circle cx="342.4" cy="458.1" r="2.17" fill="none" stroke="#0a0a0a" stroke-width="1.65"/>
<circle cx="291.8" cy="460.0" r="2.17" fill="none" stroke="#0a0a0a" stroke-width="1.65"/>
<circle cx="298.5" cy="460.5" r="2.17" fill="none" stroke="#0a0a0a" stroke-width="1.65"/>
<circle cx="305.3" cy="460.0" r="2.17" fill="none" stroke="#0a0a0a" stroke-width="1.65"/>
<circle cx="312.0" cy="460.5" r="2.17" fill="none" stroke="#0a0a0a" stroke-width="1.65"/>
<circle cx="318.8" cy="460.0" r="2.17" fill="none" stroke="#0a0a0a" stroke-width="1.65"/>
<circle cx="325.5" cy="460.5" r="2.17" fill="none" stroke="#0a0a0a" stroke-width="1.65"/>
<circle cx="332.2" cy="460.0" r="2.17" fill="none" stroke="#0a0a0a" stroke-width="1.65"/>
<circle cx="339.0" cy="460.5" r="2.17" fill="none" stroke="#0a0a0a" stroke-width="1.65"/>
<circle cx="295.2" cy="461.8" r="2.17" fill="none" stroke="#0a0a0a" stroke-width="1.65"/>
<circle cx="301.9" cy="462.3" r="2.17" fill="none" stroke="#0a0a0a" stroke-width="1.65"/>
<circle cx="308.7" cy="461.8" r="2.17" fill="none" stroke="#0a0a0a" stroke-width="1.65"/>
<circle cx="315.4" cy="462.3" r="2.17" fill="none" stroke="#0a0a0a" stroke-width="1.65"/>
<circle cx="322.1" cy="461.8" r="2.17" fill="none" stroke="#0a0a0a" stroke-width="1.65"/>
<circle cx="328.9" cy="462.3" r="2.17" fill="none" stroke="#0a0a0a" stroke-width="1.65"/>
<circle cx="335.6" cy="461.8" r="2.17" fill="none" stroke="#0a0a0a" stroke-width="1.65"/>
<circle cx="291.8" cy="463.2" r="2.17" fill="none" stroke="#0a0a0a" stroke-width="1.65"/>
<circle cx="298.5" cy="463.7" r="2.17" fill="none" stroke="#0a0a0a" stroke-width="1.65"/>
<circle cx="305.3" cy="463.2" r="2.17" fill="none" stroke="#0a0a0a" stroke-width="1.65"/>
<circle cx="312.0" cy="463.7" r="2.17" fill="none" stroke="#0a0a0a" stroke-width="1.65"/>
<circle cx="318.8" cy="463.2" r="2.17" fill="none" stroke="#0a0a0a" stroke-width="1.65"/>
<circle cx="325.5" cy="463.7" r="2.17" fill="none" stroke="#0a0a0a" stroke-width="1.65"/>
<circle cx="332.2" cy="463.2" r="2.17" fill="none" stroke="#0a0a0a" stroke-width="1.65"/>
<circle cx="339.0" cy="463.7" r="2.17" fill="none" stroke="#0a0a0a" stroke-width="1.65"/>
<circle cx="288.4" cy="464.5" r="2.17" fill="none" stroke="#0a0a0a" stroke-width="1.65"/>
<circle cx="295.2" cy="464.9" r="2.17" fill="none" stroke="#0a0a0a" stroke-width="1.65"/>
<circle cx="301.9" cy="464.5" r="2.17" fill="none" stroke="#0a0a0a" stroke-width="1.65"/>
<circle cx="308.7" cy="464.9" r="2.17" fill="none" stroke="#0a0a0a" stroke-width="1.65"/>
<circle cx="315.4" cy="464.5" r="2.17" fill="none" stroke="#0a0a0a" stroke-width="1.65"/>
<circle cx="322.1" cy="464.9" r="2.17" fill="none" stroke="#0a0a0a" stroke-width="1.65"/>
<circle cx="328.9" cy="464.5" r="2.17" fill="none" stroke="#0a0a0a" stroke-width="1.65"/>
<circle cx="335.6" cy="464.9" r="2.17" fill="none" stroke="#0a0a0a" stroke-width="1.65"/>
<circle cx="342.4" cy="464.5" r="2.17" fill="none" stroke="#0a0a0a" stroke-width="1.65"/>
<circle cx="298.5" cy="466.4" r="2.17" fill="none" stroke="#0a0a0a" stroke-width="1.65"/>
<circle cx="305.3" cy="466.9" r="2.17" fill="none" stroke="#0a0a0a" stroke-width="1.65"/>
<circle cx="312.0" cy="466.4" r="2.17" fill="none" stroke="#0a0a0a" stroke-width="1.65"/>
<circle cx="318.8" cy="466.9" r="2.17" fill="none" stroke="#0a0a0a" stroke-width="1.65"/>
<circle cx="325.5" cy="466.4" r="2.17" fill="none" stroke="#0a0a0a" stroke-width="1.65"/>
<circle cx="332.2" cy="466.9" r="2.17" fill="none" stroke="#0a0a0a" stroke-width="1.65"/>
<circle cx="288.5" cy="467.4" r="2.17" fill="none" stroke="#0a0a0a" stroke-width="1.65"/>
<circle cx="295.2" cy="468.0" r="2.17" fill="none" stroke="#0a0a0a" stroke-width="1.65"/>
<circle cx="335.7" cy="468.7" r="2.17" fill="none" stroke="#0a0a0a" stroke-width="1.65"/>
<circle cx="342.4" cy="467.4" r="2.17" fill="none" stroke="#0a0a0a" stroke-width="1.65"/>
<circle cx="308.7" cy="468.0" r="2.17" fill="none" stroke="#0a0a0a" stroke-width="1.65"/>
<circle cx="315.4" cy="468.4" r="2.17" fill="none" stroke="#0a0a0a" stroke-width="1.65"/>
<circle cx="322.2" cy="468.0" r="2.17" fill="none" stroke="#0a0a0a" stroke-width="1.65"/>
<circle cx="302.0" cy="469.9" r="2.17" fill="none" stroke="#0a0a0a" stroke-width="1.65"/>
<circle cx="328.9" cy="470.9" r="2.17" fill="none" stroke="#0a0a0a" stroke-width="1.65"/>
<circle cx="308.7" cy="473.0" r="2.17" fill="none" stroke="#0a0a0a" stroke-width="1.65"/>
<circle cx="315.4" cy="473.9" r="2.17" fill="none" stroke="#0a0a0a" stroke-width="1.65"/>
<circle cx="322.2" cy="472.8" r="2.17" fill="none" stroke="#0a0a0a" stroke-width="1.65"/>
<circle cx="403.2" cy="352.8" r="2.40" fill="#0a0a0a"/>
<circle cx="409.9" cy="365.9" r="2.40" fill="#0a0a0a"/>
<circle cx="403.2" cy="371.1" r="2.40" fill="#0a0a0a"/>
<circle cx="396.4" cy="381.8" r="2.40" fill="#0a0a0a"/>
<circle cx="403.2" cy="382.7" r="2.40" fill="#0a0a0a"/>
<circle cx="409.9" cy="380.1" r="2.40" fill="#0a0a0a"/>
<circle cx="403.2" cy="389.6" r="2.40" fill="#0a0a0a"/>
<circle cx="396.4" cy="393.9" r="2.40" fill="#0a0a0a"/>
<circle cx="403.2" cy="400.5" r="2.40" fill="#0a0a0a"/>
<circle cx="389.7" cy="406.6" r="2.40" fill="#0a0a0a"/>
<circle cx="416.6" cy="407.7" r="2.40" fill="#0a0a0a"/>
<circle cx="396.4" cy="409.1" r="2.40" fill="#0a0a0a"/>
<circle cx="403.2" cy="410.4" r="2.40" fill="#0a0a0a"/>
<circle cx="409.9" cy="410.1" r="2.40" fill="#0a0a0a"/>
<circle cx="389.7" cy="411.8" r="2.40" fill="#0a0a0a"/>
<circle cx="396.5" cy="417.0" r="2.40" fill="#0a0a0a"/>
<circle cx="403.1" cy="418.4" r="2.40" fill="#0a0a0a"/>
<circle cx="409.8" cy="416.5" r="2.40" fill="#0a0a0a"/>
<circle cx="383.1" cy="421.1" r="2.40" fill="#0a0a0a"/>
<circle cx="389.7" cy="422.7" r="2.40" fill="#0a0a0a"/>
<circle cx="416.4" cy="424.2" r="2.40" fill="#0a0a0a"/>
<circle cx="423.2" cy="422.2" r="2.40" fill="#0a0a0a"/>
<circle cx="430.0" cy="421.1" r="2.40" fill="#0a0a0a"/>
<circle cx="396.5" cy="427.7" r="2.40" fill="#0a0a0a"/>
<circle cx="403.1" cy="428.0" r="2.40" fill="#0a0a0a"/>
<circle cx="409.8" cy="427.7" r="2.40" fill="#0a0a0a"/>
<circle cx="396.5" cy="433.4" r="2.40" fill="#0a0a0a"/>
<circle cx="403.1" cy="434.2" r="2.40" fill="#0a0a0a"/>
<circle cx="383.1" cy="436.8" r="2.40" fill="#0a0a0a"/>
<circle cx="389.7" cy="437.7" r="2.40" fill="#0a0a0a"/>
<circle cx="396.5" cy="438.0" r="2.40" fill="#0a0a0a"/>
<circle cx="409.8" cy="439.5" r="2.40" fill="#0a0a0a"/>
<circle cx="416.4" cy="438.3" r="2.40" fill="#0a0a0a"/>
<circle cx="423.2" cy="436.8" r="2.40" fill="#0a0a0a"/>
<circle cx="430.0" cy="435.7" r="2.40" fill="#0a0a0a"/>
<circle cx="403.1" cy="441.9" r="2.40" fill="#0a0a0a"/>
<circle cx="423.2" cy="445.2" r="2.40" fill="#0a0a0a"/>
<circle cx="383.1" cy="446.8" r="2.40" fill="#0a0a0a"/>
<circle cx="389.7" cy="447.7" r="2.40" fill="#0a0a0a"/>
<circle cx="396.5" cy="447.7" r="2.40" fill="#0a0a0a"/>
<circle cx="409.8" cy="447.7" r="2.40" fill="#0a0a0a"/>
<circle cx="416.4" cy="447.7" r="2.40" fill="#0a0a0a"/>
<circle cx="386.5" cy="449.5" r="2.40" fill="#0a0a0a"/>
<circle cx="393.1" cy="449.8" r="2.40" fill="#0a0a0a"/>
<circle cx="399.9" cy="449.8" r="2.40" fill="#0a0a0a"/>
<circle cx="413.1" cy="449.8" r="2.40" fill="#0a0a0a"/>
<circle cx="419.8" cy="449.5" r="2.40" fill="#0a0a0a"/>
<circle cx="426.4" cy="449.2" r="2.40" fill="#0a0a0a"/>
<circle cx="406.5" cy="449.5" r="2.40" fill="#0a0a0a"/>
<circle cx="376.5" cy="452.9" r="2.40" fill="#0a0a0a"/>
<circle cx="383.1" cy="453.8" r="2.40" fill="#0a0a0a"/>
<circle cx="389.7" cy="454.4" r="2.40" fill="#0a0a0a"/>
<circle cx="396.5" cy="454.4" r="2.40" fill="#0a0a0a"/>
<circle cx="403.1" cy="452.6" r="2.40" fill="#0a0a0a"/>
<circle cx="406.5" cy="453.8" r="2.40" fill="#0a0a0a"/>
<circle cx="409.8" cy="454.9" r="2.40" fill="#0a0a0a"/>
<circle cx="416.4" cy="454.4" r="2.40" fill="#0a0a0a"/>
<circle cx="423.2" cy="453.8" r="2.40" fill="#0a0a0a"/>
<circle cx="430.0" cy="453.4" r="2.40" fill="#0a0a0a"/>
<circle cx="393.1" cy="456.7" r="2.40" fill="#0a0a0a"/>
<circle cx="399.9" cy="458.4" r="2.40" fill="#0a0a0a"/>
<circle cx="406.5" cy="458.0" r="2.40" fill="#0a0a0a"/>
<circle cx="376.5" cy="459.0" r="2.40" fill="#0a0a0a"/>
<circle cx="430.0" cy="458.7" r="2.40" fill="#0a0a0a"/>
<circle cx="383.1" cy="461.0" r="2.40" fill="#0a0a0a"/>
<circle cx="389.7" cy="461.0" r="2.40" fill="#0a0a0a"/>
<circle cx="423.2" cy="460.6" r="2.40" fill="#0a0a0a"/>
<circle cx="416.4" cy="461.4" r="2.40" fill="#0a0a0a"/>
<circle cx="396.5" cy="463.0" r="2.40" fill="#0a0a0a"/>
<circle cx="403.1" cy="463.3" r="2.40" fill="#0a0a0a"/>
<circle cx="409.8" cy="462.6" r="2.40" fill="#0a0a0a"/>
<circle cx="389.7" cy="464.9" r="2.40" fill="#0a0a0a"/>
<circle cx="396.5" cy="468.3" r="2.40" fill="#0a0a0a"/>
<circle cx="409.8" cy="468.3" r="2.40" fill="#0a0a0a"/>
<circle cx="416.4" cy="467.5" r="2.40" fill="#0a0a0a"/>
<circle cx="403.1" cy="471.3" r="2.40" fill="#0a0a0a"/>
<circle cx="315.4" cy="454.6" r="2.60" fill="#0a0a0a"/>
<circle cx="314.2" cy="452.6" r="2.60" fill="#0a0a0a"/>
<circle cx="316.6" cy="452.6" r="2.60" fill="#0a0a0a"/>
<line x1="373.40" y1="446.90" x2="432.60" y2="446.90" stroke="#000" stroke-width="1.2"/>
<line x1="391.90" y1="421.10" x2="418.00" y2="421.10" stroke="#000" stroke-width="1.2"/>
<line x1="391.90" y1="454.90" x2="418.00" y2="454.90" stroke="#000" stroke-width="1.2"/>
<line x1="403.10" y1="421.10" x2="403.10" y2="454.90" stroke="#000" stroke-width="1.2"/>
</g>
<g>
<line x1="501.05" y1="312.90" x2="501.05" y2="479.30" stroke="#2a2a2a" stroke-width="1.8"/>
<line x1="501.05" y1="478.70" x2="667.00" y2="478.70" stroke="#2a2a2a" stroke-width="1.2"/>
<line x1="497.45" y1="478.70" x2="501.05" y2="478.70" stroke="#2a2a2a" stroke-width="1.2"/>
<text x="0.00" y="0.00" font-size="7.9" font-weight="bold" stroke="#111" stroke-width="0.2" text-anchor="end" fill="#111" transform="translate(497.35 481.35) scale(0.93 1)">0</text>
<line x1="497.45" y1="445.66" x2="501.05" y2="445.66" stroke="#2a2a2a" stroke-width="1.2"/>
<text x="0.00" y="0.00" font-size="7.9" font-weight="bold" stroke="#111" stroke-width="0.2" text-anchor="end" fill="#111" transform="translate(497.35 448.31) scale(0.93 1)">2000</text>
<line x1="497.45" y1="412.62" x2="501.05" y2="412.62" stroke="#2a2a2a" stroke-width="1.2"/>
<text x="0.00" y="0.00" font-size="7.9" font-weight="bold" stroke="#111" stroke-width="0.2" text-anchor="end" fill="#111" transform="translate(497.35 415.27) scale(0.93 1)">4000</text>
<line x1="497.45" y1="379.58" x2="501.05" y2="379.58" stroke="#2a2a2a" stroke-width="1.2"/>
<text x="0.00" y="0.00" font-size="7.9" font-weight="bold" stroke="#111" stroke-width="0.2" text-anchor="end" fill="#111" transform="translate(497.35 382.23) scale(0.93 1)">6000</text>
<line x1="497.45" y1="346.54" x2="501.05" y2="346.54" stroke="#2a2a2a" stroke-width="1.2"/>
<text x="0.00" y="0.00" font-size="7.9" font-weight="bold" stroke="#111" stroke-width="0.2" text-anchor="end" fill="#111" transform="translate(497.35 349.19) scale(0.93 1)">8000</text>
<line x1="497.45" y1="313.50" x2="501.05" y2="313.50" stroke="#2a2a2a" stroke-width="1.2"/>
<text x="0.00" y="0.00" font-size="7.9" font-weight="bold" stroke="#111" stroke-width="0.2" text-anchor="end" fill="#111" transform="translate(497.35 316.15) scale(0.93 1)">10000</text>
<line x1="542.00" y1="478.70" x2="542.00" y2="482.40" stroke="#2a2a2a" stroke-width="1.2"/>
<text x="544.90" y="491.10" font-size="7.9" font-weight="bold" stroke="#111" stroke-width="0.2" text-anchor="end" fill="#111" transform="rotate(-45 544.90 491.10)">IL-1Ra NHS</text>
<line x1="625.20" y1="478.70" x2="625.20" y2="482.40" stroke="#2a2a2a" stroke-width="1.2"/>
<text x="628.10" y="491.10" font-size="7.9" font-weight="bold" stroke="#111" stroke-width="0.2" text-anchor="end" fill="#111" transform="rotate(-45 628.10 491.10)">IL-1Ra</text>
<text x="471.10" y="395.70" font-size="9.25" text-anchor="middle" fill="#222" stroke="#222" stroke-width="0.35" transform="rotate(-90 471.10 395.70)">pg/ml</text>
<text x="0.00" y="0.00" font-size="10.1" font-weight="bold" stroke="#111" stroke-width="0.2" text-anchor="middle" fill="#111" transform="translate(568.20 272.90) scale(0.92 1)">IL1-Ra</text>
<line x1="548.70" y1="310.80" x2="624.80" y2="310.80" stroke="#2e2e2e" stroke-width="1.5"/>
<line x1="548.70" y1="307.40" x2="548.70" y2="314.40" stroke="#2e2e2e" stroke-width="1.4"/>
<line x1="624.80" y1="307.40" x2="624.80" y2="314.40" stroke="#2e2e2e" stroke-width="1.4"/>
<text x="0.00" y="0.00" font-size="8.8" stroke="#1c1c1c" stroke-width="0.25" text-anchor="start" fill="#1c1c1c" transform="translate(567.50 305.90) scale(0.945 1)">p=0.009</text>
<circle cx="535.8" cy="470.3" r="1.70" fill="none" stroke="#0a0a0a" stroke-width="1.5"/>
<circle cx="548.5" cy="470.1" r="1.70" fill="none" stroke="#0a0a0a" stroke-width="1.5"/>
<circle cx="542.1" cy="471.2" r="1.70" fill="none" stroke="#0a0a0a" stroke-width="1.5"/>
<circle cx="516.6" cy="472.6" r="1.70" fill="none" stroke="#0a0a0a" stroke-width="1.5"/>
<circle cx="523.0" cy="472.9" r="1.70" fill="none" stroke="#0a0a0a" stroke-width="1.5"/>
<circle cx="529.4" cy="472.6" r="1.70" fill="none" stroke="#0a0a0a" stroke-width="1.5"/>
<circle cx="535.8" cy="472.9" r="1.70" fill="none" stroke="#0a0a0a" stroke-width="1.5"/>
<circle cx="542.1" cy="472.6" r="1.70" fill="none" stroke="#0a0a0a" stroke-width="1.5"/>
<circle cx="548.5" cy="472.9" r="1.70" fill="none" stroke="#0a0a0a" stroke-width="1.5"/>
<circle cx="554.9" cy="472.6" r="1.70" fill="none" stroke="#0a0a0a" stroke-width="1.5"/>
<circle cx="561.3" cy="472.9" r="1.70" fill="none" stroke="#0a0a0a" stroke-width="1.5"/>
<circle cx="567.7" cy="472.6" r="1.70" fill="none" stroke="#0a0a0a" stroke-width="1.5"/>
<circle cx="516.6" cy="474.4" r="1.70" fill="none" stroke="#0a0a0a" stroke-width="1.5"/>
<circle cx="523.0" cy="474.1" r="1.70" fill="none" stroke="#0a0a0a" stroke-width="1.5"/>
<circle cx="529.4" cy="474.4" r="1.70" fill="none" stroke="#0a0a0a" stroke-width="1.5"/>
<circle cx="535.8" cy="474.1" r="1.70" fill="none" stroke="#0a0a0a" stroke-width="1.5"/>
<circle cx="542.1" cy="474.4" r="1.70" fill="none" stroke="#0a0a0a" stroke-width="1.5"/>
<circle cx="548.5" cy="474.1" r="1.70" fill="none" stroke="#0a0a0a" stroke-width="1.5"/>
<circle cx="554.9" cy="474.4" r="1.70" fill="none" stroke="#0a0a0a" stroke-width="1.5"/>
<circle cx="561.3" cy="474.1" r="1.70" fill="none" stroke="#0a0a0a" stroke-width="1.5"/>
<circle cx="567.7" cy="474.4" r="1.70" fill="none" stroke="#0a0a0a" stroke-width="1.5"/>
<circle cx="519.8" cy="475.4" r="1.70" fill="none" stroke="#0a0a0a" stroke-width="1.5"/>
<circle cx="526.2" cy="475.4" r="1.70" fill="none" stroke="#0a0a0a" stroke-width="1.5"/>
<circle cx="532.6" cy="475.4" r="1.70" fill="none" stroke="#0a0a0a" stroke-width="1.5"/>
<circle cx="539.0" cy="475.4" r="1.70" fill="none" stroke="#0a0a0a" stroke-width="1.5"/>
<circle cx="545.3" cy="475.4" r="1.70" fill="none" stroke="#0a0a0a" stroke-width="1.5"/>
<circle cx="551.7" cy="475.4" r="1.70" fill="none" stroke="#0a0a0a" stroke-width="1.5"/>
<circle cx="558.1" cy="475.4" r="1.70" fill="none" stroke="#0a0a0a" stroke-width="1.5"/>
<circle cx="564.5" cy="475.4" r="1.70" fill="none" stroke="#0a0a0a" stroke-width="1.5"/>
<circle cx="516.6" cy="476.4" r="1.70" fill="none" stroke="#0a0a0a" stroke-width="1.5"/>
<circle cx="523.0" cy="476.7" r="1.70" fill="none" stroke="#0a0a0a" stroke-width="1.5"/>
<circle cx="529.4" cy="476.4" r="1.70" fill="none" stroke="#0a0a0a" stroke-width="1.5"/>
<circle cx="535.8" cy="476.7" r="1.70" fill="none" stroke="#0a0a0a" stroke-width="1.5"/>
<circle cx="542.1" cy="476.4" r="1.70" fill="none" stroke="#0a0a0a" stroke-width="1.5"/>
<circle cx="548.5" cy="476.7" r="1.70" fill="none" stroke="#0a0a0a" stroke-width="1.5"/>
<circle cx="554.9" cy="476.4" r="1.70" fill="none" stroke="#0a0a0a" stroke-width="1.5"/>
<circle cx="561.3" cy="476.7" r="1.70" fill="none" stroke="#0a0a0a" stroke-width="1.5"/>
<circle cx="567.7" cy="476.4" r="1.70" fill="none" stroke="#0a0a0a" stroke-width="1.5"/>
<circle cx="519.8" cy="477.4" r="1.70" fill="none" stroke="#0a0a0a" stroke-width="1.5"/>
<circle cx="526.2" cy="477.4" r="1.70" fill="none" stroke="#0a0a0a" stroke-width="1.5"/>
<circle cx="532.6" cy="477.4" r="1.70" fill="none" stroke="#0a0a0a" stroke-width="1.5"/>
<circle cx="539.0" cy="477.4" r="1.70" fill="none" stroke="#0a0a0a" stroke-width="1.5"/>
<circle cx="545.3" cy="477.4" r="1.70" fill="none" stroke="#0a0a0a" stroke-width="1.5"/>
<circle cx="551.7" cy="477.4" r="1.70" fill="none" stroke="#0a0a0a" stroke-width="1.5"/>
<circle cx="558.1" cy="477.4" r="1.70" fill="none" stroke="#0a0a0a" stroke-width="1.5"/>
<circle cx="564.5" cy="477.4" r="1.70" fill="none" stroke="#0a0a0a" stroke-width="1.5"/>
<circle cx="516.6" cy="478.2" r="1.70" fill="none" stroke="#0a0a0a" stroke-width="1.5"/>
<circle cx="523.0" cy="478.2" r="1.70" fill="none" stroke="#0a0a0a" stroke-width="1.5"/>
<circle cx="529.4" cy="478.2" r="1.70" fill="none" stroke="#0a0a0a" stroke-width="1.5"/>
<circle cx="535.8" cy="478.2" r="1.70" fill="none" stroke="#0a0a0a" stroke-width="1.5"/>
<circle cx="542.1" cy="478.2" r="1.70" fill="none" stroke="#0a0a0a" stroke-width="1.5"/>
<circle cx="548.5" cy="478.2" r="1.70" fill="none" stroke="#0a0a0a" stroke-width="1.5"/>
<circle cx="554.9" cy="478.2" r="1.70" fill="none" stroke="#0a0a0a" stroke-width="1.5"/>
<circle cx="561.3" cy="478.2" r="1.70" fill="none" stroke="#0a0a0a" stroke-width="1.5"/>
<circle cx="567.7" cy="478.2" r="1.70" fill="none" stroke="#0a0a0a" stroke-width="1.5"/>
<circle cx="624.8" cy="320.1" r="2.00" fill="#0a0a0a"/>
<circle cx="624.7" cy="386.6" r="2.00" fill="#0a0a0a"/>
<circle cx="630.9" cy="390.8" r="2.00" fill="#0a0a0a"/>
<circle cx="624.7" cy="393.7" r="2.00" fill="#0a0a0a"/>
<circle cx="624.7" cy="407.6" r="2.00" fill="#0a0a0a"/>
<circle cx="612.1" cy="458.3" r="2.00" fill="#0a0a0a"/>
<circle cx="643.5" cy="457.5" r="2.00" fill="#0a0a0a"/>
<circle cx="618.4" cy="462.4" r="2.00" fill="#0a0a0a"/>
<circle cx="624.7" cy="463.6" r="2.00" fill="#0a0a0a"/>
<circle cx="630.9" cy="463.1" r="2.00" fill="#0a0a0a"/>
<circle cx="637.2" cy="462.2" r="2.00" fill="#0a0a0a"/>
<circle cx="599.4" cy="467.4" r="2.00" fill="#0a0a0a"/>
<circle cx="605.8" cy="468.3" r="2.00" fill="#0a0a0a"/>
<circle cx="643.5" cy="467.7" r="2.00" fill="#0a0a0a"/>
<circle cx="612.1" cy="469.4" r="2.00" fill="#0a0a0a"/>
<circle cx="612.1" cy="471.6" r="2.00" fill="#0a0a0a"/>
<circle cx="612.1" cy="473.8" r="2.00" fill="#0a0a0a"/>
<circle cx="618.4" cy="469.4" r="2.00" fill="#0a0a0a"/>
<circle cx="618.4" cy="471.6" r="2.00" fill="#0a0a0a"/>
<circle cx="618.4" cy="473.8" r="2.00" fill="#0a0a0a"/>
<circle cx="624.7" cy="469.4" r="2.00" fill="#0a0a0a"/>
<circle cx="624.7" cy="471.6" r="2.00" fill="#0a0a0a"/>
<circle cx="624.7" cy="473.8" r="2.00" fill="#0a0a0a"/>
<circle cx="630.9" cy="469.4" r="2.00" fill="#0a0a0a"/>
<circle cx="630.9" cy="471.6" r="2.00" fill="#0a0a0a"/>
<circle cx="630.9" cy="473.8" r="2.00" fill="#0a0a0a"/>
<circle cx="637.2" cy="469.4" r="2.00" fill="#0a0a0a"/>
<circle cx="637.2" cy="471.6" r="2.00" fill="#0a0a0a"/>
<circle cx="637.2" cy="473.8" r="2.00" fill="#0a0a0a"/>
<circle cx="599.4" cy="473.9" r="2.00" fill="#0a0a0a"/>
<circle cx="605.8" cy="474.2" r="2.00" fill="#0a0a0a"/>
<circle cx="643.5" cy="473.9" r="2.00" fill="#0a0a0a"/>
<circle cx="649.8" cy="474.2" r="2.00" fill="#0a0a0a"/>
<circle cx="599.5" cy="476.2" r="2.00" fill="#0a0a0a"/>
<circle cx="605.8" cy="476.2" r="2.00" fill="#0a0a0a"/>
<circle cx="612.1" cy="476.2" r="2.00" fill="#0a0a0a"/>
<circle cx="618.4" cy="476.2" r="2.00" fill="#0a0a0a"/>
<circle cx="624.7" cy="476.2" r="2.00" fill="#0a0a0a"/>
<circle cx="631.0" cy="476.2" r="2.00" fill="#0a0a0a"/>
<circle cx="637.3" cy="476.2" r="2.00" fill="#0a0a0a"/>
<circle cx="643.6" cy="476.2" r="2.00" fill="#0a0a0a"/>
<circle cx="649.9" cy="476.2" r="2.00" fill="#0a0a0a"/>
<circle cx="602.7" cy="476.8" r="2.00" fill="#0a0a0a"/>
<circle cx="609.0" cy="476.8" r="2.00" fill="#0a0a0a"/>
<circle cx="615.3" cy="476.8" r="2.00" fill="#0a0a0a"/>
<circle cx="621.6" cy="476.8" r="2.00" fill="#0a0a0a"/>
<circle cx="627.8" cy="476.8" r="2.00" fill="#0a0a0a"/>
<circle cx="634.1" cy="476.8" r="2.00" fill="#0a0a0a"/>
<circle cx="640.4" cy="476.8" r="2.00" fill="#0a0a0a"/>
<circle cx="646.7" cy="476.8" r="2.00" fill="#0a0a0a"/>
<circle cx="599.5" cy="477.9" r="2.00" fill="#0a0a0a"/>
<circle cx="605.8" cy="477.9" r="2.00" fill="#0a0a0a"/>
<circle cx="612.1" cy="477.9" r="2.00" fill="#0a0a0a"/>
<circle cx="618.4" cy="477.9" r="2.00" fill="#0a0a0a"/>
<circle cx="624.7" cy="477.9" r="2.00" fill="#0a0a0a"/>
<circle cx="631.0" cy="477.9" r="2.00" fill="#0a0a0a"/>
<circle cx="637.3" cy="477.9" r="2.00" fill="#0a0a0a"/>
<circle cx="643.6" cy="477.9" r="2.00" fill="#0a0a0a"/>
<circle cx="649.9" cy="477.9" r="2.00" fill="#0a0a0a"/>
<circle cx="602.7" cy="477.9" r="2.00" fill="#0a0a0a"/>
<circle cx="609.0" cy="477.9" r="2.00" fill="#0a0a0a"/>
<circle cx="615.3" cy="477.9" r="2.00" fill="#0a0a0a"/>
<circle cx="621.6" cy="477.9" r="2.00" fill="#0a0a0a"/>
<circle cx="627.8" cy="477.9" r="2.00" fill="#0a0a0a"/>
<circle cx="634.1" cy="477.9" r="2.00" fill="#0a0a0a"/>
<circle cx="640.4" cy="477.9" r="2.00" fill="#0a0a0a"/>
<circle cx="646.7" cy="477.9" r="2.00" fill="#0a0a0a"/>
<circle cx="516.6" cy="474.6" r="1.70" fill="#0a0a0a"/>
<circle cx="519.8" cy="474.6" r="1.70" fill="#0a0a0a"/>
<circle cx="523.0" cy="474.6" r="1.70" fill="#0a0a0a"/>
<circle cx="526.2" cy="474.6" r="1.70" fill="#0a0a0a"/>
<circle cx="529.4" cy="474.6" r="1.70" fill="#0a0a0a"/>
<circle cx="532.6" cy="474.6" r="1.70" fill="#0a0a0a"/>
<circle cx="535.8" cy="474.6" r="1.70" fill="#0a0a0a"/>
<circle cx="539.0" cy="474.6" r="1.70" fill="#0a0a0a"/>
<circle cx="542.1" cy="474.6" r="1.70" fill="#0a0a0a"/>
<circle cx="545.3" cy="474.6" r="1.70" fill="#0a0a0a"/>
<circle cx="548.5" cy="474.6" r="1.70" fill="#0a0a0a"/>
<circle cx="551.7" cy="474.6" r="1.70" fill="#0a0a0a"/>
<circle cx="554.9" cy="474.6" r="1.70" fill="#0a0a0a"/>
<circle cx="558.1" cy="474.6" r="1.70" fill="#0a0a0a"/>
<circle cx="561.3" cy="474.6" r="1.70" fill="#0a0a0a"/>
<circle cx="564.5" cy="474.6" r="1.70" fill="#0a0a0a"/>
<circle cx="567.7" cy="474.6" r="1.70" fill="#0a0a0a"/>
<circle cx="516.6" cy="476.8" r="1.70" fill="#0a0a0a"/>
<circle cx="519.8" cy="476.8" r="1.70" fill="#0a0a0a"/>
<circle cx="523.0" cy="476.8" r="1.70" fill="#0a0a0a"/>
<circle cx="526.2" cy="476.8" r="1.70" fill="#0a0a0a"/>
<circle cx="529.4" cy="476.8" r="1.70" fill="#0a0a0a"/>
<circle cx="532.6" cy="476.8" r="1.70" fill="#0a0a0a"/>
<circle cx="535.8" cy="476.8" r="1.70" fill="#0a0a0a"/>
<circle cx="539.0" cy="476.8" r="1.70" fill="#0a0a0a"/>
<circle cx="542.1" cy="476.8" r="1.70" fill="#0a0a0a"/>
<circle cx="545.3" cy="476.8" r="1.70" fill="#0a0a0a"/>
<circle cx="548.5" cy="476.8" r="1.70" fill="#0a0a0a"/>
<circle cx="551.7" cy="476.8" r="1.70" fill="#0a0a0a"/>
<circle cx="554.9" cy="476.8" r="1.70" fill="#0a0a0a"/>
<circle cx="558.1" cy="476.8" r="1.70" fill="#0a0a0a"/>
<circle cx="561.3" cy="476.8" r="1.70" fill="#0a0a0a"/>
<circle cx="564.5" cy="476.8" r="1.70" fill="#0a0a0a"/>
<circle cx="567.7" cy="476.8" r="1.70" fill="#0a0a0a"/>
<circle cx="516.6" cy="473.0" r="1.70" fill="#0a0a0a"/>
<circle cx="523.0" cy="473.0" r="1.70" fill="#0a0a0a"/>
<circle cx="529.4" cy="473.0" r="1.70" fill="#0a0a0a"/>
<circle cx="535.8" cy="473.0" r="1.70" fill="#0a0a0a"/>
<circle cx="542.1" cy="473.0" r="1.70" fill="#0a0a0a"/>
<circle cx="548.5" cy="473.0" r="1.70" fill="#0a0a0a"/>
<circle cx="554.9" cy="473.0" r="1.70" fill="#0a0a0a"/>
<circle cx="561.3" cy="473.0" r="1.70" fill="#0a0a0a"/>
<circle cx="567.7" cy="473.0" r="1.70" fill="#0a0a0a"/>
<line x1="624.70" y1="470.00" x2="624.70" y2="481.50" stroke="#000" stroke-width="1.2"/>
<line x1="542.10" y1="472.00" x2="542.10" y2="481.30" stroke="#000" stroke-width="1.2"/>
</g>
</svg>
</body></html>
